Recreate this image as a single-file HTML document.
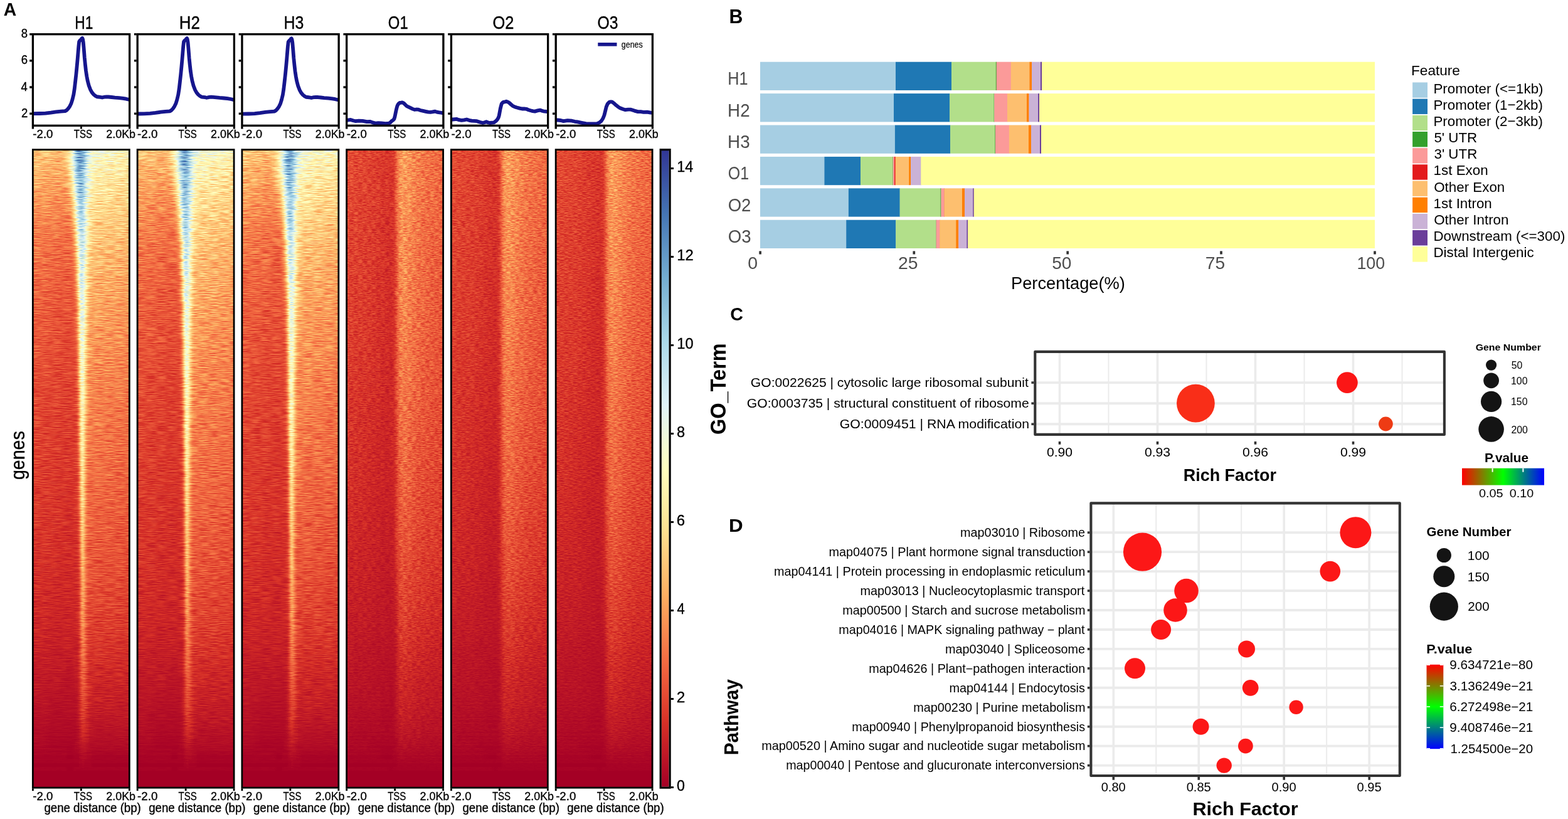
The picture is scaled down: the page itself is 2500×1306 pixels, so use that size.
<!DOCTYPE html>
<html lang="en"><head><meta charset="utf-8"><title>Figure</title>
<style>html,body{margin:0;padding:0;background:#fff}svg{display:block}text{font-family:"Liberation Sans",sans-serif;white-space:pre}</style>
</head><body>
<svg width="2500" height="1306" viewBox="0 0 2500 1306">
<defs>
<clipPath id="cp0"><rect x="52.4" y="54.6" width="154.2" height="145.7"/></clipPath>
<clipPath id="cp1"><rect x="219.16" y="54.6" width="154.2" height="145.7"/></clipPath>
<clipPath id="cp2"><rect x="385.92" y="54.6" width="154.2" height="145.7"/></clipPath>
<clipPath id="cp3"><rect x="552.68" y="54.6" width="154.2" height="145.7"/></clipPath>
<clipPath id="cp4"><rect x="719.44" y="54.6" width="154.2" height="145.7"/></clipPath>
<clipPath id="cp5"><rect x="886.2" y="54.6" width="154.2" height="145.7"/></clipPath>
<linearGradient id="gh0"><stop offset="0" stop-color="#3c3c3c"/><stop offset="0.1" stop-color="#3a3a3a"/><stop offset="0.2" stop-color="#383838"/><stop offset="0.26" stop-color="#373737"/><stop offset="0.3" stop-color="#383838"/><stop offset="0.33" stop-color="#3d3d3d"/><stop offset="0.36" stop-color="#464646"/><stop offset="0.385" stop-color="#525252"/><stop offset="0.405" stop-color="#5d5d5d"/><stop offset="0.425" stop-color="#6c6c6c"/><stop offset="0.44" stop-color="#777777"/><stop offset="0.455" stop-color="#838383"/><stop offset="0.47" stop-color="#8c8c8c"/><stop offset="0.482" stop-color="#919191"/><stop offset="0.49" stop-color="#939393"/><stop offset="0.498" stop-color="#939393"/><stop offset="0.506" stop-color="#929292"/><stop offset="0.512" stop-color="#919191"/><stop offset="0.518" stop-color="#8f8f8f"/><stop offset="0.526" stop-color="#8c8c8c"/><stop offset="0.535" stop-color="#888888"/><stop offset="0.55" stop-color="#7f7f7f"/><stop offset="0.57" stop-color="#747474"/><stop offset="0.59" stop-color="#6c6c6c"/><stop offset="0.62" stop-color="#646464"/><stop offset="0.66" stop-color="#5f5f5f"/><stop offset="0.72" stop-color="#5d5d5d"/><stop offset="0.8" stop-color="#5a5a5a"/><stop offset="0.9" stop-color="#585858"/><stop offset="1" stop-color="#555555"/></linearGradient>
<linearGradient id="gh1"><stop offset="0" stop-color="#3a3a3a"/><stop offset="0.1" stop-color="#393939"/><stop offset="0.2" stop-color="#363636"/><stop offset="0.26" stop-color="#353535"/><stop offset="0.3" stop-color="#373737"/><stop offset="0.33" stop-color="#3c3c3c"/><stop offset="0.36" stop-color="#464646"/><stop offset="0.385" stop-color="#525252"/><stop offset="0.405" stop-color="#5d5d5d"/><stop offset="0.425" stop-color="#6c6c6c"/><stop offset="0.44" stop-color="#787878"/><stop offset="0.455" stop-color="#838383"/><stop offset="0.47" stop-color="#8c8c8c"/><stop offset="0.482" stop-color="#909090"/><stop offset="0.49" stop-color="#919191"/><stop offset="0.498" stop-color="#919191"/><stop offset="0.506" stop-color="#909090"/><stop offset="0.512" stop-color="#8f8f8f"/><stop offset="0.518" stop-color="#8d8d8d"/><stop offset="0.526" stop-color="#898989"/><stop offset="0.535" stop-color="#848484"/><stop offset="0.55" stop-color="#7b7b7b"/><stop offset="0.57" stop-color="#6f6f6f"/><stop offset="0.59" stop-color="#676767"/><stop offset="0.62" stop-color="#5f5f5f"/><stop offset="0.66" stop-color="#5a5a5a"/><stop offset="0.72" stop-color="#585858"/><stop offset="0.8" stop-color="#565656"/><stop offset="0.9" stop-color="#545454"/><stop offset="1" stop-color="#515151"/></linearGradient>
<linearGradient id="gh2"><stop offset="0" stop-color="#393939"/><stop offset="0.1" stop-color="#383838"/><stop offset="0.2" stop-color="#353535"/><stop offset="0.26" stop-color="#343434"/><stop offset="0.3" stop-color="#363636"/><stop offset="0.33" stop-color="#3b3b3b"/><stop offset="0.36" stop-color="#454545"/><stop offset="0.385" stop-color="#525252"/><stop offset="0.405" stop-color="#5e5e5e"/><stop offset="0.425" stop-color="#6d6d6d"/><stop offset="0.44" stop-color="#787878"/><stop offset="0.455" stop-color="#838383"/><stop offset="0.47" stop-color="#8b8b8b"/><stop offset="0.482" stop-color="#8f8f8f"/><stop offset="0.49" stop-color="#909090"/><stop offset="0.498" stop-color="#909090"/><stop offset="0.506" stop-color="#8e8e8e"/><stop offset="0.512" stop-color="#8c8c8c"/><stop offset="0.518" stop-color="#8a8a8a"/><stop offset="0.526" stop-color="#858585"/><stop offset="0.535" stop-color="#808080"/><stop offset="0.55" stop-color="#767676"/><stop offset="0.57" stop-color="#6a6a6a"/><stop offset="0.59" stop-color="#626262"/><stop offset="0.62" stop-color="#5a5a5a"/><stop offset="0.66" stop-color="#565656"/><stop offset="0.72" stop-color="#545454"/><stop offset="0.8" stop-color="#525252"/><stop offset="0.9" stop-color="#4f4f4f"/><stop offset="1" stop-color="#4d4d4d"/></linearGradient>
<linearGradient id="gh3"><stop offset="0" stop-color="#373737"/><stop offset="0.1" stop-color="#363636"/><stop offset="0.2" stop-color="#333333"/><stop offset="0.26" stop-color="#323232"/><stop offset="0.3" stop-color="#343434"/><stop offset="0.33" stop-color="#383838"/><stop offset="0.36" stop-color="#424242"/><stop offset="0.385" stop-color="#4f4f4f"/><stop offset="0.405" stop-color="#5b5b5b"/><stop offset="0.425" stop-color="#6a6a6a"/><stop offset="0.44" stop-color="#767676"/><stop offset="0.455" stop-color="#818181"/><stop offset="0.47" stop-color="#8a8a8a"/><stop offset="0.482" stop-color="#8e8e8e"/><stop offset="0.49" stop-color="#8f8f8f"/><stop offset="0.498" stop-color="#8e8e8e"/><stop offset="0.506" stop-color="#8c8c8c"/><stop offset="0.512" stop-color="#8a8a8a"/><stop offset="0.518" stop-color="#888888"/><stop offset="0.526" stop-color="#848484"/><stop offset="0.535" stop-color="#7e7e7e"/><stop offset="0.55" stop-color="#747474"/><stop offset="0.57" stop-color="#686868"/><stop offset="0.59" stop-color="#5f5f5f"/><stop offset="0.62" stop-color="#575757"/><stop offset="0.66" stop-color="#535353"/><stop offset="0.72" stop-color="#515151"/><stop offset="0.8" stop-color="#4f4f4f"/><stop offset="0.9" stop-color="#4d4d4d"/><stop offset="1" stop-color="#4b4b4b"/></linearGradient>
<linearGradient id="gh4"><stop offset="0" stop-color="#353535"/><stop offset="0.1" stop-color="#343434"/><stop offset="0.2" stop-color="#313131"/><stop offset="0.26" stop-color="#303030"/><stop offset="0.3" stop-color="#313131"/><stop offset="0.33" stop-color="#353535"/><stop offset="0.36" stop-color="#3e3e3e"/><stop offset="0.385" stop-color="#4b4b4b"/><stop offset="0.405" stop-color="#575757"/><stop offset="0.425" stop-color="#676767"/><stop offset="0.44" stop-color="#747474"/><stop offset="0.455" stop-color="#7f7f7f"/><stop offset="0.47" stop-color="#888888"/><stop offset="0.482" stop-color="#8c8c8c"/><stop offset="0.49" stop-color="#8d8d8d"/><stop offset="0.498" stop-color="#8c8c8c"/><stop offset="0.506" stop-color="#8a8a8a"/><stop offset="0.512" stop-color="#888888"/><stop offset="0.518" stop-color="#868686"/><stop offset="0.526" stop-color="#818181"/><stop offset="0.535" stop-color="#7c7c7c"/><stop offset="0.55" stop-color="#717171"/><stop offset="0.57" stop-color="#656565"/><stop offset="0.59" stop-color="#5c5c5c"/><stop offset="0.62" stop-color="#545454"/><stop offset="0.66" stop-color="#505050"/><stop offset="0.72" stop-color="#4f4f4f"/><stop offset="0.8" stop-color="#4d4d4d"/><stop offset="0.9" stop-color="#4a4a4a"/><stop offset="1" stop-color="#484848"/></linearGradient>
<linearGradient id="gh5"><stop offset="0" stop-color="#313131"/><stop offset="0.1" stop-color="#303030"/><stop offset="0.2" stop-color="#2e2e2e"/><stop offset="0.26" stop-color="#2c2c2c"/><stop offset="0.3" stop-color="#2c2c2c"/><stop offset="0.33" stop-color="#2e2e2e"/><stop offset="0.36" stop-color="#353535"/><stop offset="0.385" stop-color="#404040"/><stop offset="0.405" stop-color="#4c4c4c"/><stop offset="0.425" stop-color="#5d5d5d"/><stop offset="0.44" stop-color="#6b6b6b"/><stop offset="0.455" stop-color="#787878"/><stop offset="0.47" stop-color="#828282"/><stop offset="0.482" stop-color="#878787"/><stop offset="0.49" stop-color="#888888"/><stop offset="0.498" stop-color="#888888"/><stop offset="0.506" stop-color="#868686"/><stop offset="0.512" stop-color="#848484"/><stop offset="0.518" stop-color="#818181"/><stop offset="0.526" stop-color="#7d7d7d"/><stop offset="0.535" stop-color="#777777"/><stop offset="0.55" stop-color="#6d6d6d"/><stop offset="0.57" stop-color="#606060"/><stop offset="0.59" stop-color="#575757"/><stop offset="0.62" stop-color="#4f4f4f"/><stop offset="0.66" stop-color="#4c4c4c"/><stop offset="0.72" stop-color="#4a4a4a"/><stop offset="0.8" stop-color="#484848"/><stop offset="0.9" stop-color="#464646"/><stop offset="1" stop-color="#444444"/></linearGradient>
<linearGradient id="gh6"><stop offset="0" stop-color="#2d2d2d"/><stop offset="0.1" stop-color="#2c2c2c"/><stop offset="0.2" stop-color="#2a2a2a"/><stop offset="0.26" stop-color="#292929"/><stop offset="0.3" stop-color="#282828"/><stop offset="0.33" stop-color="#292929"/><stop offset="0.36" stop-color="#2c2c2c"/><stop offset="0.385" stop-color="#353535"/><stop offset="0.405" stop-color="#414141"/><stop offset="0.425" stop-color="#515151"/><stop offset="0.44" stop-color="#606060"/><stop offset="0.455" stop-color="#6f6f6f"/><stop offset="0.47" stop-color="#7b7b7b"/><stop offset="0.482" stop-color="#818181"/><stop offset="0.49" stop-color="#838383"/><stop offset="0.498" stop-color="#838383"/><stop offset="0.506" stop-color="#828282"/><stop offset="0.512" stop-color="#808080"/><stop offset="0.518" stop-color="#7d7d7d"/><stop offset="0.526" stop-color="#797979"/><stop offset="0.535" stop-color="#737373"/><stop offset="0.55" stop-color="#686868"/><stop offset="0.57" stop-color="#5b5b5b"/><stop offset="0.59" stop-color="#515151"/><stop offset="0.62" stop-color="#4a4a4a"/><stop offset="0.66" stop-color="#474747"/><stop offset="0.72" stop-color="#464646"/><stop offset="0.8" stop-color="#444444"/><stop offset="0.9" stop-color="#424242"/><stop offset="1" stop-color="#404040"/></linearGradient>
<linearGradient id="gh7"><stop offset="0" stop-color="#2a2a2a"/><stop offset="0.1" stop-color="#292929"/><stop offset="0.2" stop-color="#272727"/><stop offset="0.26" stop-color="#262626"/><stop offset="0.3" stop-color="#252525"/><stop offset="0.33" stop-color="#252525"/><stop offset="0.36" stop-color="#272727"/><stop offset="0.385" stop-color="#2c2c2c"/><stop offset="0.405" stop-color="#363636"/><stop offset="0.425" stop-color="#454545"/><stop offset="0.44" stop-color="#555555"/><stop offset="0.455" stop-color="#656565"/><stop offset="0.47" stop-color="#747474"/><stop offset="0.482" stop-color="#7c7c7c"/><stop offset="0.49" stop-color="#7e7e7e"/><stop offset="0.498" stop-color="#7f7f7f"/><stop offset="0.506" stop-color="#7e7e7e"/><stop offset="0.512" stop-color="#7c7c7c"/><stop offset="0.518" stop-color="#7a7a7a"/><stop offset="0.526" stop-color="#757575"/><stop offset="0.535" stop-color="#6f6f6f"/><stop offset="0.55" stop-color="#646464"/><stop offset="0.57" stop-color="#565656"/><stop offset="0.59" stop-color="#4d4d4d"/><stop offset="0.62" stop-color="#464646"/><stop offset="0.66" stop-color="#434343"/><stop offset="0.72" stop-color="#424242"/><stop offset="0.8" stop-color="#404040"/><stop offset="0.9" stop-color="#3e3e3e"/><stop offset="1" stop-color="#3d3d3d"/></linearGradient>
<linearGradient id="gh8"><stop offset="0" stop-color="#262626"/><stop offset="0.1" stop-color="#262626"/><stop offset="0.2" stop-color="#242424"/><stop offset="0.26" stop-color="#232323"/><stop offset="0.3" stop-color="#222222"/><stop offset="0.33" stop-color="#222222"/><stop offset="0.36" stop-color="#222222"/><stop offset="0.385" stop-color="#252525"/><stop offset="0.405" stop-color="#2b2b2b"/><stop offset="0.425" stop-color="#393939"/><stop offset="0.44" stop-color="#484848"/><stop offset="0.455" stop-color="#5a5a5a"/><stop offset="0.47" stop-color="#6b6b6b"/><stop offset="0.482" stop-color="#757575"/><stop offset="0.49" stop-color="#797979"/><stop offset="0.498" stop-color="#7b7b7b"/><stop offset="0.506" stop-color="#7a7a7a"/><stop offset="0.512" stop-color="#797979"/><stop offset="0.518" stop-color="#767676"/><stop offset="0.526" stop-color="#727272"/><stop offset="0.535" stop-color="#6c6c6c"/><stop offset="0.55" stop-color="#606060"/><stop offset="0.57" stop-color="#525252"/><stop offset="0.59" stop-color="#484848"/><stop offset="0.62" stop-color="#424242"/><stop offset="0.66" stop-color="#3f3f3f"/><stop offset="0.72" stop-color="#3e3e3e"/><stop offset="0.8" stop-color="#3d3d3d"/><stop offset="0.9" stop-color="#3b3b3b"/><stop offset="1" stop-color="#393939"/></linearGradient>
<linearGradient id="gh9"><stop offset="0" stop-color="#242424"/><stop offset="0.1" stop-color="#232323"/><stop offset="0.2" stop-color="#222222"/><stop offset="0.26" stop-color="#212121"/><stop offset="0.3" stop-color="#202020"/><stop offset="0.33" stop-color="#202020"/><stop offset="0.36" stop-color="#202020"/><stop offset="0.385" stop-color="#212121"/><stop offset="0.405" stop-color="#252525"/><stop offset="0.425" stop-color="#303030"/><stop offset="0.44" stop-color="#3e3e3e"/><stop offset="0.455" stop-color="#505050"/><stop offset="0.47" stop-color="#636363"/><stop offset="0.482" stop-color="#6e6e6e"/><stop offset="0.49" stop-color="#747474"/><stop offset="0.498" stop-color="#767676"/><stop offset="0.506" stop-color="#767676"/><stop offset="0.512" stop-color="#757575"/><stop offset="0.518" stop-color="#737373"/><stop offset="0.526" stop-color="#6e6e6e"/><stop offset="0.535" stop-color="#686868"/><stop offset="0.55" stop-color="#5c5c5c"/><stop offset="0.57" stop-color="#4e4e4e"/><stop offset="0.59" stop-color="#444444"/><stop offset="0.62" stop-color="#3e3e3e"/><stop offset="0.66" stop-color="#3c3c3c"/><stop offset="0.72" stop-color="#3b3b3b"/><stop offset="0.8" stop-color="#3a3a3a"/><stop offset="0.9" stop-color="#383838"/><stop offset="1" stop-color="#363636"/></linearGradient>
<linearGradient id="gh10"><stop offset="0" stop-color="#222222"/><stop offset="0.1" stop-color="#212121"/><stop offset="0.2" stop-color="#202020"/><stop offset="0.26" stop-color="#1e1e1e"/><stop offset="0.3" stop-color="#1e1e1e"/><stop offset="0.33" stop-color="#1d1d1d"/><stop offset="0.36" stop-color="#1d1d1d"/><stop offset="0.385" stop-color="#1e1e1e"/><stop offset="0.405" stop-color="#212121"/><stop offset="0.425" stop-color="#282828"/><stop offset="0.44" stop-color="#343434"/><stop offset="0.455" stop-color="#454545"/><stop offset="0.47" stop-color="#595959"/><stop offset="0.482" stop-color="#676767"/><stop offset="0.49" stop-color="#6e6e6e"/><stop offset="0.498" stop-color="#717171"/><stop offset="0.506" stop-color="#727272"/><stop offset="0.512" stop-color="#717171"/><stop offset="0.518" stop-color="#6f6f6f"/><stop offset="0.526" stop-color="#6b6b6b"/><stop offset="0.535" stop-color="#656565"/><stop offset="0.55" stop-color="#595959"/><stop offset="0.57" stop-color="#4a4a4a"/><stop offset="0.59" stop-color="#404040"/><stop offset="0.62" stop-color="#3b3b3b"/><stop offset="0.66" stop-color="#393939"/><stop offset="0.72" stop-color="#383838"/><stop offset="0.8" stop-color="#373737"/><stop offset="0.9" stop-color="#353535"/><stop offset="1" stop-color="#333333"/></linearGradient>
<linearGradient id="gh11"><stop offset="0" stop-color="#202020"/><stop offset="0.1" stop-color="#202020"/><stop offset="0.2" stop-color="#1e1e1e"/><stop offset="0.26" stop-color="#1d1d1d"/><stop offset="0.3" stop-color="#1c1c1c"/><stop offset="0.33" stop-color="#1c1c1c"/><stop offset="0.36" stop-color="#1c1c1c"/><stop offset="0.385" stop-color="#1c1c1c"/><stop offset="0.405" stop-color="#1e1e1e"/><stop offset="0.425" stop-color="#242424"/><stop offset="0.44" stop-color="#2d2d2d"/><stop offset="0.455" stop-color="#3e3e3e"/><stop offset="0.47" stop-color="#525252"/><stop offset="0.482" stop-color="#616161"/><stop offset="0.49" stop-color="#696969"/><stop offset="0.498" stop-color="#6d6d6d"/><stop offset="0.506" stop-color="#6f6f6f"/><stop offset="0.512" stop-color="#6e6e6e"/><stop offset="0.518" stop-color="#6c6c6c"/><stop offset="0.526" stop-color="#686868"/><stop offset="0.535" stop-color="#616161"/><stop offset="0.55" stop-color="#555555"/><stop offset="0.57" stop-color="#464646"/><stop offset="0.59" stop-color="#3d3d3d"/><stop offset="0.62" stop-color="#383838"/><stop offset="0.66" stop-color="#363636"/><stop offset="0.72" stop-color="#353535"/><stop offset="0.8" stop-color="#343434"/><stop offset="0.9" stop-color="#333333"/><stop offset="1" stop-color="#313131"/></linearGradient>
<linearGradient id="gh12"><stop offset="0" stop-color="#1f1f1f"/><stop offset="0.1" stop-color="#1e1e1e"/><stop offset="0.2" stop-color="#1d1d1d"/><stop offset="0.26" stop-color="#1c1c1c"/><stop offset="0.3" stop-color="#1b1b1b"/><stop offset="0.33" stop-color="#1b1b1b"/><stop offset="0.36" stop-color="#1a1a1a"/><stop offset="0.385" stop-color="#1a1a1a"/><stop offset="0.405" stop-color="#1b1b1b"/><stop offset="0.425" stop-color="#1f1f1f"/><stop offset="0.44" stop-color="#272727"/><stop offset="0.455" stop-color="#363636"/><stop offset="0.47" stop-color="#4a4a4a"/><stop offset="0.482" stop-color="#5a5a5a"/><stop offset="0.49" stop-color="#636363"/><stop offset="0.498" stop-color="#696969"/><stop offset="0.506" stop-color="#6b6b6b"/><stop offset="0.512" stop-color="#6b6b6b"/><stop offset="0.518" stop-color="#696969"/><stop offset="0.526" stop-color="#656565"/><stop offset="0.535" stop-color="#5e5e5e"/><stop offset="0.55" stop-color="#525252"/><stop offset="0.57" stop-color="#434343"/><stop offset="0.59" stop-color="#3a3a3a"/><stop offset="0.62" stop-color="#353535"/><stop offset="0.66" stop-color="#343434"/><stop offset="0.72" stop-color="#333333"/><stop offset="0.8" stop-color="#323232"/><stop offset="0.9" stop-color="#303030"/><stop offset="1" stop-color="#2f2f2f"/></linearGradient>
<linearGradient id="gh13"><stop offset="0" stop-color="#1d1d1d"/><stop offset="0.1" stop-color="#1c1c1c"/><stop offset="0.2" stop-color="#1b1b1b"/><stop offset="0.26" stop-color="#1a1a1a"/><stop offset="0.3" stop-color="#191919"/><stop offset="0.33" stop-color="#191919"/><stop offset="0.36" stop-color="#191919"/><stop offset="0.385" stop-color="#191919"/><stop offset="0.405" stop-color="#191919"/><stop offset="0.425" stop-color="#1c1c1c"/><stop offset="0.44" stop-color="#222222"/><stop offset="0.455" stop-color="#2e2e2e"/><stop offset="0.47" stop-color="#424242"/><stop offset="0.482" stop-color="#535353"/><stop offset="0.49" stop-color="#5d5d5d"/><stop offset="0.498" stop-color="#646464"/><stop offset="0.506" stop-color="#676767"/><stop offset="0.512" stop-color="#676767"/><stop offset="0.518" stop-color="#656565"/><stop offset="0.526" stop-color="#616161"/><stop offset="0.535" stop-color="#5a5a5a"/><stop offset="0.55" stop-color="#4d4d4d"/><stop offset="0.57" stop-color="#3e3e3e"/><stop offset="0.59" stop-color="#363636"/><stop offset="0.62" stop-color="#323232"/><stop offset="0.66" stop-color="#313131"/><stop offset="0.72" stop-color="#303030"/><stop offset="0.8" stop-color="#2f2f2f"/><stop offset="0.9" stop-color="#2e2e2e"/><stop offset="1" stop-color="#2c2c2c"/></linearGradient>
<linearGradient id="gh14"><stop offset="0" stop-color="#1b1b1b"/><stop offset="0.1" stop-color="#1a1a1a"/><stop offset="0.2" stop-color="#191919"/><stop offset="0.26" stop-color="#181818"/><stop offset="0.3" stop-color="#181818"/><stop offset="0.33" stop-color="#171717"/><stop offset="0.36" stop-color="#171717"/><stop offset="0.385" stop-color="#171717"/><stop offset="0.405" stop-color="#171717"/><stop offset="0.425" stop-color="#191919"/><stop offset="0.44" stop-color="#1d1d1d"/><stop offset="0.455" stop-color="#272727"/><stop offset="0.47" stop-color="#393939"/><stop offset="0.482" stop-color="#4b4b4b"/><stop offset="0.49" stop-color="#575757"/><stop offset="0.498" stop-color="#5f5f5f"/><stop offset="0.506" stop-color="#636363"/><stop offset="0.512" stop-color="#636363"/><stop offset="0.518" stop-color="#616161"/><stop offset="0.526" stop-color="#5d5d5d"/><stop offset="0.535" stop-color="#565656"/><stop offset="0.55" stop-color="#484848"/><stop offset="0.57" stop-color="#3a3a3a"/><stop offset="0.59" stop-color="#323232"/><stop offset="0.62" stop-color="#2f2f2f"/><stop offset="0.66" stop-color="#2e2e2e"/><stop offset="0.72" stop-color="#2d2d2d"/><stop offset="0.8" stop-color="#2c2c2c"/><stop offset="0.9" stop-color="#2b2b2b"/><stop offset="1" stop-color="#2a2a2a"/></linearGradient>
<linearGradient id="gh15"><stop offset="0" stop-color="#181818"/><stop offset="0.1" stop-color="#181818"/><stop offset="0.2" stop-color="#171717"/><stop offset="0.26" stop-color="#161616"/><stop offset="0.3" stop-color="#151515"/><stop offset="0.33" stop-color="#151515"/><stop offset="0.36" stop-color="#151515"/><stop offset="0.385" stop-color="#151515"/><stop offset="0.405" stop-color="#151515"/><stop offset="0.425" stop-color="#161616"/><stop offset="0.44" stop-color="#181818"/><stop offset="0.455" stop-color="#202020"/><stop offset="0.47" stop-color="#303030"/><stop offset="0.482" stop-color="#424242"/><stop offset="0.49" stop-color="#4e4e4e"/><stop offset="0.498" stop-color="#575757"/><stop offset="0.506" stop-color="#5c5c5c"/><stop offset="0.512" stop-color="#5d5d5d"/><stop offset="0.518" stop-color="#5b5b5b"/><stop offset="0.526" stop-color="#575757"/><stop offset="0.535" stop-color="#4f4f4f"/><stop offset="0.55" stop-color="#414141"/><stop offset="0.57" stop-color="#333333"/><stop offset="0.59" stop-color="#2d2d2d"/><stop offset="0.62" stop-color="#2b2b2b"/><stop offset="0.66" stop-color="#2a2a2a"/><stop offset="0.72" stop-color="#292929"/><stop offset="0.8" stop-color="#282828"/><stop offset="0.9" stop-color="#272727"/><stop offset="1" stop-color="#262626"/></linearGradient>
<linearGradient id="gh16"><stop offset="0" stop-color="#161616"/><stop offset="0.1" stop-color="#151515"/><stop offset="0.2" stop-color="#141414"/><stop offset="0.26" stop-color="#141414"/><stop offset="0.3" stop-color="#131313"/><stop offset="0.33" stop-color="#131313"/><stop offset="0.36" stop-color="#131313"/><stop offset="0.385" stop-color="#131313"/><stop offset="0.405" stop-color="#131313"/><stop offset="0.425" stop-color="#131313"/><stop offset="0.44" stop-color="#151515"/><stop offset="0.455" stop-color="#1a1a1a"/><stop offset="0.47" stop-color="#282828"/><stop offset="0.482" stop-color="#393939"/><stop offset="0.49" stop-color="#454545"/><stop offset="0.498" stop-color="#505050"/><stop offset="0.506" stop-color="#565656"/><stop offset="0.512" stop-color="#575757"/><stop offset="0.518" stop-color="#555555"/><stop offset="0.526" stop-color="#515151"/><stop offset="0.535" stop-color="#484848"/><stop offset="0.55" stop-color="#3a3a3a"/><stop offset="0.57" stop-color="#2d2d2d"/><stop offset="0.59" stop-color="#282828"/><stop offset="0.62" stop-color="#272727"/><stop offset="0.66" stop-color="#262626"/><stop offset="0.72" stop-color="#262626"/><stop offset="0.8" stop-color="#252525"/><stop offset="0.9" stop-color="#242424"/><stop offset="1" stop-color="#222222"/></linearGradient>
<linearGradient id="gh17"><stop offset="0" stop-color="#141414"/><stop offset="0.1" stop-color="#131313"/><stop offset="0.2" stop-color="#121212"/><stop offset="0.26" stop-color="#121212"/><stop offset="0.3" stop-color="#111111"/><stop offset="0.33" stop-color="#111111"/><stop offset="0.36" stop-color="#111111"/><stop offset="0.385" stop-color="#111111"/><stop offset="0.405" stop-color="#111111"/><stop offset="0.425" stop-color="#111111"/><stop offset="0.44" stop-color="#121212"/><stop offset="0.455" stop-color="#151515"/><stop offset="0.47" stop-color="#202020"/><stop offset="0.482" stop-color="#2f2f2f"/><stop offset="0.49" stop-color="#3c3c3c"/><stop offset="0.498" stop-color="#474747"/><stop offset="0.506" stop-color="#4e4e4e"/><stop offset="0.512" stop-color="#4f4f4f"/><stop offset="0.518" stop-color="#4e4e4e"/><stop offset="0.526" stop-color="#494949"/><stop offset="0.535" stop-color="#414141"/><stop offset="0.55" stop-color="#333333"/><stop offset="0.57" stop-color="#282828"/><stop offset="0.59" stop-color="#242424"/><stop offset="0.62" stop-color="#232323"/><stop offset="0.66" stop-color="#232323"/><stop offset="0.72" stop-color="#222222"/><stop offset="0.8" stop-color="#212121"/><stop offset="0.9" stop-color="#202020"/><stop offset="1" stop-color="#1f1f1f"/></linearGradient>
<linearGradient id="gh18"><stop offset="0" stop-color="#121212"/><stop offset="0.1" stop-color="#111111"/><stop offset="0.2" stop-color="#101010"/><stop offset="0.26" stop-color="#101010"/><stop offset="0.3" stop-color="#0f0f0f"/><stop offset="0.33" stop-color="#0f0f0f"/><stop offset="0.36" stop-color="#0f0f0f"/><stop offset="0.385" stop-color="#0f0f0f"/><stop offset="0.405" stop-color="#0f0f0f"/><stop offset="0.425" stop-color="#0f0f0f"/><stop offset="0.44" stop-color="#101010"/><stop offset="0.455" stop-color="#121212"/><stop offset="0.47" stop-color="#191919"/><stop offset="0.482" stop-color="#262626"/><stop offset="0.49" stop-color="#323232"/><stop offset="0.498" stop-color="#3d3d3d"/><stop offset="0.506" stop-color="#454545"/><stop offset="0.512" stop-color="#474747"/><stop offset="0.518" stop-color="#464646"/><stop offset="0.526" stop-color="#414141"/><stop offset="0.535" stop-color="#393939"/><stop offset="0.55" stop-color="#2c2c2c"/><stop offset="0.57" stop-color="#222222"/><stop offset="0.59" stop-color="#202020"/><stop offset="0.62" stop-color="#1f1f1f"/><stop offset="0.66" stop-color="#1f1f1f"/><stop offset="0.72" stop-color="#1e1e1e"/><stop offset="0.8" stop-color="#1e1e1e"/><stop offset="0.9" stop-color="#1d1d1d"/><stop offset="1" stop-color="#1c1c1c"/></linearGradient>
<linearGradient id="gh19"><stop offset="0" stop-color="#101010"/><stop offset="0.1" stop-color="#0f0f0f"/><stop offset="0.2" stop-color="#0f0f0f"/><stop offset="0.26" stop-color="#0e0e0e"/><stop offset="0.3" stop-color="#0e0e0e"/><stop offset="0.33" stop-color="#0e0e0e"/><stop offset="0.36" stop-color="#0d0d0d"/><stop offset="0.385" stop-color="#0d0d0d"/><stop offset="0.405" stop-color="#0d0d0d"/><stop offset="0.425" stop-color="#0e0e0e"/><stop offset="0.44" stop-color="#0e0e0e"/><stop offset="0.455" stop-color="#0f0f0f"/><stop offset="0.47" stop-color="#141414"/><stop offset="0.482" stop-color="#1e1e1e"/><stop offset="0.49" stop-color="#282828"/><stop offset="0.498" stop-color="#333333"/><stop offset="0.506" stop-color="#3b3b3b"/><stop offset="0.512" stop-color="#3e3e3e"/><stop offset="0.518" stop-color="#3d3d3d"/><stop offset="0.526" stop-color="#393939"/><stop offset="0.535" stop-color="#323232"/><stop offset="0.55" stop-color="#262626"/><stop offset="0.57" stop-color="#1e1e1e"/><stop offset="0.59" stop-color="#1c1c1c"/><stop offset="0.62" stop-color="#1c1c1c"/><stop offset="0.66" stop-color="#1b1b1b"/><stop offset="0.72" stop-color="#1b1b1b"/><stop offset="0.8" stop-color="#1a1a1a"/><stop offset="0.9" stop-color="#191919"/><stop offset="1" stop-color="#191919"/></linearGradient>
<linearGradient id="gh20"><stop offset="0" stop-color="#0e0e0e"/><stop offset="0.1" stop-color="#0e0e0e"/><stop offset="0.2" stop-color="#0d0d0d"/><stop offset="0.26" stop-color="#0c0c0c"/><stop offset="0.3" stop-color="#0c0c0c"/><stop offset="0.33" stop-color="#0c0c0c"/><stop offset="0.36" stop-color="#0c0c0c"/><stop offset="0.385" stop-color="#0c0c0c"/><stop offset="0.405" stop-color="#0c0c0c"/><stop offset="0.425" stop-color="#0c0c0c"/><stop offset="0.44" stop-color="#0c0c0c"/><stop offset="0.455" stop-color="#0d0d0d"/><stop offset="0.47" stop-color="#101010"/><stop offset="0.482" stop-color="#181818"/><stop offset="0.49" stop-color="#202020"/><stop offset="0.498" stop-color="#292929"/><stop offset="0.506" stop-color="#323232"/><stop offset="0.512" stop-color="#353535"/><stop offset="0.518" stop-color="#353535"/><stop offset="0.526" stop-color="#323232"/><stop offset="0.535" stop-color="#2b2b2b"/><stop offset="0.55" stop-color="#212121"/><stop offset="0.57" stop-color="#1a1a1a"/><stop offset="0.59" stop-color="#181818"/><stop offset="0.62" stop-color="#181818"/><stop offset="0.66" stop-color="#181818"/><stop offset="0.72" stop-color="#171717"/><stop offset="0.8" stop-color="#171717"/><stop offset="0.9" stop-color="#161616"/><stop offset="1" stop-color="#151515"/></linearGradient>
<linearGradient id="gh21"><stop offset="0" stop-color="#0c0c0c"/><stop offset="0.1" stop-color="#0c0c0c"/><stop offset="0.2" stop-color="#0c0c0c"/><stop offset="0.26" stop-color="#0b0b0b"/><stop offset="0.3" stop-color="#0b0b0b"/><stop offset="0.33" stop-color="#0b0b0b"/><stop offset="0.36" stop-color="#0b0b0b"/><stop offset="0.385" stop-color="#0b0b0b"/><stop offset="0.405" stop-color="#0b0b0b"/><stop offset="0.425" stop-color="#0b0b0b"/><stop offset="0.44" stop-color="#0b0b0b"/><stop offset="0.455" stop-color="#0c0c0c"/><stop offset="0.47" stop-color="#0e0e0e"/><stop offset="0.482" stop-color="#141414"/><stop offset="0.49" stop-color="#1b1b1b"/><stop offset="0.498" stop-color="#232323"/><stop offset="0.506" stop-color="#2a2a2a"/><stop offset="0.512" stop-color="#2d2d2d"/><stop offset="0.518" stop-color="#2e2e2e"/><stop offset="0.526" stop-color="#2c2c2c"/><stop offset="0.535" stop-color="#272727"/><stop offset="0.55" stop-color="#1e1e1e"/><stop offset="0.57" stop-color="#171717"/><stop offset="0.59" stop-color="#151515"/><stop offset="0.62" stop-color="#151515"/><stop offset="0.66" stop-color="#151515"/><stop offset="0.72" stop-color="#141414"/><stop offset="0.8" stop-color="#141414"/><stop offset="0.9" stop-color="#131313"/><stop offset="1" stop-color="#121212"/></linearGradient>
<linearGradient id="gh22"><stop offset="0" stop-color="#0b0b0b"/><stop offset="0.1" stop-color="#0b0b0b"/><stop offset="0.2" stop-color="#0a0a0a"/><stop offset="0.26" stop-color="#0a0a0a"/><stop offset="0.3" stop-color="#0a0a0a"/><stop offset="0.33" stop-color="#0a0a0a"/><stop offset="0.36" stop-color="#0a0a0a"/><stop offset="0.385" stop-color="#0a0a0a"/><stop offset="0.405" stop-color="#0a0a0a"/><stop offset="0.425" stop-color="#0a0a0a"/><stop offset="0.44" stop-color="#0a0a0a"/><stop offset="0.455" stop-color="#0b0b0b"/><stop offset="0.47" stop-color="#0c0c0c"/><stop offset="0.482" stop-color="#111111"/><stop offset="0.49" stop-color="#171717"/><stop offset="0.498" stop-color="#1e1e1e"/><stop offset="0.506" stop-color="#242424"/><stop offset="0.512" stop-color="#262626"/><stop offset="0.518" stop-color="#272727"/><stop offset="0.526" stop-color="#262626"/><stop offset="0.535" stop-color="#222222"/><stop offset="0.55" stop-color="#1a1a1a"/><stop offset="0.57" stop-color="#141414"/><stop offset="0.59" stop-color="#121212"/><stop offset="0.62" stop-color="#121212"/><stop offset="0.66" stop-color="#111111"/><stop offset="0.72" stop-color="#111111"/><stop offset="0.8" stop-color="#111111"/><stop offset="0.9" stop-color="#101010"/><stop offset="1" stop-color="#101010"/></linearGradient>
<linearGradient id="gh23"><stop offset="0" stop-color="#0a0a0a"/><stop offset="0.1" stop-color="#0a0a0a"/><stop offset="0.2" stop-color="#090909"/><stop offset="0.26" stop-color="#090909"/><stop offset="0.3" stop-color="#090909"/><stop offset="0.33" stop-color="#090909"/><stop offset="0.36" stop-color="#090909"/><stop offset="0.385" stop-color="#090909"/><stop offset="0.405" stop-color="#090909"/><stop offset="0.425" stop-color="#090909"/><stop offset="0.44" stop-color="#090909"/><stop offset="0.455" stop-color="#090909"/><stop offset="0.47" stop-color="#0b0b0b"/><stop offset="0.482" stop-color="#101010"/><stop offset="0.49" stop-color="#151515"/><stop offset="0.498" stop-color="#1a1a1a"/><stop offset="0.506" stop-color="#1f1f1f"/><stop offset="0.512" stop-color="#212121"/><stop offset="0.518" stop-color="#222222"/><stop offset="0.526" stop-color="#212121"/><stop offset="0.535" stop-color="#1e1e1e"/><stop offset="0.55" stop-color="#181818"/><stop offset="0.57" stop-color="#121212"/><stop offset="0.59" stop-color="#101010"/><stop offset="0.62" stop-color="#0f0f0f"/><stop offset="0.66" stop-color="#0f0f0f"/><stop offset="0.72" stop-color="#0f0f0f"/><stop offset="0.8" stop-color="#0e0e0e"/><stop offset="0.9" stop-color="#0e0e0e"/><stop offset="1" stop-color="#0d0d0d"/></linearGradient>
<linearGradient id="gh24"><stop offset="0" stop-color="#080808"/><stop offset="0.1" stop-color="#080808"/><stop offset="0.2" stop-color="#080808"/><stop offset="0.26" stop-color="#080808"/><stop offset="0.3" stop-color="#080808"/><stop offset="0.33" stop-color="#080808"/><stop offset="0.36" stop-color="#070707"/><stop offset="0.385" stop-color="#070707"/><stop offset="0.405" stop-color="#070707"/><stop offset="0.425" stop-color="#080808"/><stop offset="0.44" stop-color="#080808"/><stop offset="0.455" stop-color="#080808"/><stop offset="0.47" stop-color="#0a0a0a"/><stop offset="0.482" stop-color="#0e0e0e"/><stop offset="0.49" stop-color="#121212"/><stop offset="0.498" stop-color="#171717"/><stop offset="0.506" stop-color="#1b1b1b"/><stop offset="0.512" stop-color="#1c1c1c"/><stop offset="0.518" stop-color="#1d1d1d"/><stop offset="0.526" stop-color="#1d1d1d"/><stop offset="0.535" stop-color="#1b1b1b"/><stop offset="0.55" stop-color="#161616"/><stop offset="0.57" stop-color="#101010"/><stop offset="0.59" stop-color="#0d0d0d"/><stop offset="0.62" stop-color="#0d0d0d"/><stop offset="0.66" stop-color="#0c0c0c"/><stop offset="0.72" stop-color="#0c0c0c"/><stop offset="0.8" stop-color="#0c0c0c"/><stop offset="0.9" stop-color="#0c0c0c"/><stop offset="1" stop-color="#0b0b0b"/></linearGradient>
<linearGradient id="gh25"><stop offset="0" stop-color="#070707"/><stop offset="0.1" stop-color="#070707"/><stop offset="0.2" stop-color="#070707"/><stop offset="0.26" stop-color="#070707"/><stop offset="0.3" stop-color="#060606"/><stop offset="0.33" stop-color="#060606"/><stop offset="0.36" stop-color="#060606"/><stop offset="0.385" stop-color="#060606"/><stop offset="0.405" stop-color="#060606"/><stop offset="0.425" stop-color="#060606"/><stop offset="0.44" stop-color="#070707"/><stop offset="0.455" stop-color="#070707"/><stop offset="0.47" stop-color="#090909"/><stop offset="0.482" stop-color="#0c0c0c"/><stop offset="0.49" stop-color="#0f0f0f"/><stop offset="0.498" stop-color="#131313"/><stop offset="0.506" stop-color="#161616"/><stop offset="0.512" stop-color="#181818"/><stop offset="0.518" stop-color="#181818"/><stop offset="0.526" stop-color="#181818"/><stop offset="0.535" stop-color="#171717"/><stop offset="0.55" stop-color="#131313"/><stop offset="0.57" stop-color="#0e0e0e"/><stop offset="0.59" stop-color="#0c0c0c"/><stop offset="0.62" stop-color="#0b0b0b"/><stop offset="0.66" stop-color="#0b0b0b"/><stop offset="0.72" stop-color="#0a0a0a"/><stop offset="0.8" stop-color="#0a0a0a"/><stop offset="0.9" stop-color="#0a0a0a"/><stop offset="1" stop-color="#0a0a0a"/></linearGradient>
<linearGradient id="gh26"><stop offset="0" stop-color="#060606"/><stop offset="0.1" stop-color="#060606"/><stop offset="0.2" stop-color="#050505"/><stop offset="0.26" stop-color="#050505"/><stop offset="0.3" stop-color="#050505"/><stop offset="0.33" stop-color="#050505"/><stop offset="0.36" stop-color="#050505"/><stop offset="0.385" stop-color="#050505"/><stop offset="0.405" stop-color="#050505"/><stop offset="0.425" stop-color="#050505"/><stop offset="0.44" stop-color="#050505"/><stop offset="0.455" stop-color="#060606"/><stop offset="0.47" stop-color="#080808"/><stop offset="0.482" stop-color="#0a0a0a"/><stop offset="0.49" stop-color="#0d0d0d"/><stop offset="0.498" stop-color="#0f0f0f"/><stop offset="0.506" stop-color="#121212"/><stop offset="0.512" stop-color="#131313"/><stop offset="0.518" stop-color="#141414"/><stop offset="0.526" stop-color="#131313"/><stop offset="0.535" stop-color="#131313"/><stop offset="0.55" stop-color="#101010"/><stop offset="0.57" stop-color="#0c0c0c"/><stop offset="0.59" stop-color="#0a0a0a"/><stop offset="0.62" stop-color="#090909"/><stop offset="0.66" stop-color="#090909"/><stop offset="0.72" stop-color="#090909"/><stop offset="0.8" stop-color="#090909"/><stop offset="0.9" stop-color="#080808"/><stop offset="1" stop-color="#080808"/></linearGradient>
<linearGradient id="gh27"><stop offset="0" stop-color="#050505"/><stop offset="0.1" stop-color="#050505"/><stop offset="0.2" stop-color="#040404"/><stop offset="0.26" stop-color="#040404"/><stop offset="0.3" stop-color="#040404"/><stop offset="0.33" stop-color="#040404"/><stop offset="0.36" stop-color="#040404"/><stop offset="0.385" stop-color="#040404"/><stop offset="0.405" stop-color="#040404"/><stop offset="0.425" stop-color="#040404"/><stop offset="0.44" stop-color="#040404"/><stop offset="0.455" stop-color="#050505"/><stop offset="0.47" stop-color="#060606"/><stop offset="0.482" stop-color="#090909"/><stop offset="0.49" stop-color="#0a0a0a"/><stop offset="0.498" stop-color="#0c0c0c"/><stop offset="0.506" stop-color="#0e0e0e"/><stop offset="0.512" stop-color="#0e0e0e"/><stop offset="0.518" stop-color="#0f0f0f"/><stop offset="0.526" stop-color="#0f0f0f"/><stop offset="0.535" stop-color="#0e0e0e"/><stop offset="0.55" stop-color="#0c0c0c"/><stop offset="0.57" stop-color="#0a0a0a"/><stop offset="0.59" stop-color="#080808"/><stop offset="0.62" stop-color="#070707"/><stop offset="0.66" stop-color="#070707"/><stop offset="0.72" stop-color="#070707"/><stop offset="0.8" stop-color="#070707"/><stop offset="0.9" stop-color="#070707"/><stop offset="1" stop-color="#070707"/></linearGradient>
<linearGradient id="gh28"><stop offset="0" stop-color="#040404"/><stop offset="0.1" stop-color="#040404"/><stop offset="0.2" stop-color="#030303"/><stop offset="0.26" stop-color="#030303"/><stop offset="0.3" stop-color="#030303"/><stop offset="0.33" stop-color="#030303"/><stop offset="0.36" stop-color="#030303"/><stop offset="0.385" stop-color="#030303"/><stop offset="0.405" stop-color="#030303"/><stop offset="0.425" stop-color="#030303"/><stop offset="0.44" stop-color="#030303"/><stop offset="0.455" stop-color="#040404"/><stop offset="0.47" stop-color="#050505"/><stop offset="0.482" stop-color="#070707"/><stop offset="0.49" stop-color="#080808"/><stop offset="0.498" stop-color="#090909"/><stop offset="0.506" stop-color="#0a0a0a"/><stop offset="0.512" stop-color="#0b0b0b"/><stop offset="0.518" stop-color="#0b0b0b"/><stop offset="0.526" stop-color="#0b0b0b"/><stop offset="0.535" stop-color="#0a0a0a"/><stop offset="0.55" stop-color="#090909"/><stop offset="0.57" stop-color="#080808"/><stop offset="0.59" stop-color="#060606"/><stop offset="0.62" stop-color="#060606"/><stop offset="0.66" stop-color="#050505"/><stop offset="0.72" stop-color="#050505"/><stop offset="0.8" stop-color="#050505"/><stop offset="0.9" stop-color="#050505"/><stop offset="1" stop-color="#050505"/></linearGradient>
<linearGradient id="gh29"><stop offset="0" stop-color="#030303"/><stop offset="0.1" stop-color="#030303"/><stop offset="0.2" stop-color="#020202"/><stop offset="0.26" stop-color="#020202"/><stop offset="0.3" stop-color="#020202"/><stop offset="0.33" stop-color="#020202"/><stop offset="0.36" stop-color="#020202"/><stop offset="0.385" stop-color="#020202"/><stop offset="0.405" stop-color="#020202"/><stop offset="0.425" stop-color="#020202"/><stop offset="0.44" stop-color="#030303"/><stop offset="0.455" stop-color="#030303"/><stop offset="0.47" stop-color="#040404"/><stop offset="0.482" stop-color="#050505"/><stop offset="0.49" stop-color="#060606"/><stop offset="0.498" stop-color="#060606"/><stop offset="0.506" stop-color="#070707"/><stop offset="0.512" stop-color="#070707"/><stop offset="0.518" stop-color="#070707"/><stop offset="0.526" stop-color="#070707"/><stop offset="0.535" stop-color="#070707"/><stop offset="0.55" stop-color="#060606"/><stop offset="0.57" stop-color="#050505"/><stop offset="0.59" stop-color="#040404"/><stop offset="0.62" stop-color="#040404"/><stop offset="0.66" stop-color="#040404"/><stop offset="0.72" stop-color="#040404"/><stop offset="0.8" stop-color="#040404"/><stop offset="0.9" stop-color="#040404"/><stop offset="1" stop-color="#040404"/></linearGradient>
<linearGradient id="gh30"><stop offset="0" stop-color="#020202"/><stop offset="0.1" stop-color="#020202"/><stop offset="0.2" stop-color="#020202"/><stop offset="0.26" stop-color="#020202"/><stop offset="0.3" stop-color="#020202"/><stop offset="0.33" stop-color="#020202"/><stop offset="0.36" stop-color="#010101"/><stop offset="0.385" stop-color="#010101"/><stop offset="0.405" stop-color="#010101"/><stop offset="0.425" stop-color="#020202"/><stop offset="0.44" stop-color="#020202"/><stop offset="0.455" stop-color="#020202"/><stop offset="0.47" stop-color="#020202"/><stop offset="0.482" stop-color="#030303"/><stop offset="0.49" stop-color="#030303"/><stop offset="0.498" stop-color="#040404"/><stop offset="0.506" stop-color="#040404"/><stop offset="0.512" stop-color="#040404"/><stop offset="0.518" stop-color="#040404"/><stop offset="0.526" stop-color="#040404"/><stop offset="0.535" stop-color="#040404"/><stop offset="0.55" stop-color="#040404"/><stop offset="0.57" stop-color="#030303"/><stop offset="0.59" stop-color="#030303"/><stop offset="0.62" stop-color="#020202"/><stop offset="0.66" stop-color="#020202"/><stop offset="0.72" stop-color="#020202"/><stop offset="0.8" stop-color="#020202"/><stop offset="0.9" stop-color="#020202"/><stop offset="1" stop-color="#020202"/></linearGradient>
<linearGradient id="gh31"><stop offset="0" stop-color="#010101"/><stop offset="0.1" stop-color="#010101"/><stop offset="0.2" stop-color="#010101"/><stop offset="0.26" stop-color="#010101"/><stop offset="0.3" stop-color="#010101"/><stop offset="0.33" stop-color="#010101"/><stop offset="0.36" stop-color="#010101"/><stop offset="0.385" stop-color="#010101"/><stop offset="0.405" stop-color="#010101"/><stop offset="0.425" stop-color="#010101"/><stop offset="0.44" stop-color="#010101"/><stop offset="0.455" stop-color="#010101"/><stop offset="0.47" stop-color="#010101"/><stop offset="0.482" stop-color="#020202"/><stop offset="0.49" stop-color="#020202"/><stop offset="0.498" stop-color="#020202"/><stop offset="0.506" stop-color="#020202"/><stop offset="0.512" stop-color="#030303"/><stop offset="0.518" stop-color="#030303"/><stop offset="0.526" stop-color="#030303"/><stop offset="0.535" stop-color="#020202"/><stop offset="0.55" stop-color="#020202"/><stop offset="0.57" stop-color="#020202"/><stop offset="0.59" stop-color="#020202"/><stop offset="0.62" stop-color="#010101"/><stop offset="0.66" stop-color="#010101"/><stop offset="0.72" stop-color="#010101"/><stop offset="0.8" stop-color="#010101"/><stop offset="0.9" stop-color="#010101"/><stop offset="1" stop-color="#010101"/></linearGradient>
<linearGradient id="gh32"><stop offset="0" stop-color="#010101"/><stop offset="0.1" stop-color="#010101"/><stop offset="0.2" stop-color="#010101"/><stop offset="0.26" stop-color="#010101"/><stop offset="0.3" stop-color="#010101"/><stop offset="0.33" stop-color="#010101"/><stop offset="0.36" stop-color="#000000"/><stop offset="0.385" stop-color="#000000"/><stop offset="0.405" stop-color="#000000"/><stop offset="0.425" stop-color="#010101"/><stop offset="0.44" stop-color="#010101"/><stop offset="0.455" stop-color="#010101"/><stop offset="0.47" stop-color="#010101"/><stop offset="0.482" stop-color="#010101"/><stop offset="0.49" stop-color="#010101"/><stop offset="0.498" stop-color="#010101"/><stop offset="0.506" stop-color="#010101"/><stop offset="0.512" stop-color="#010101"/><stop offset="0.518" stop-color="#010101"/><stop offset="0.526" stop-color="#010101"/><stop offset="0.535" stop-color="#010101"/><stop offset="0.55" stop-color="#010101"/><stop offset="0.57" stop-color="#010101"/><stop offset="0.59" stop-color="#010101"/><stop offset="0.62" stop-color="#010101"/><stop offset="0.66" stop-color="#010101"/><stop offset="0.72" stop-color="#010101"/><stop offset="0.8" stop-color="#010101"/><stop offset="0.9" stop-color="#010101"/><stop offset="1" stop-color="#010101"/></linearGradient>
<linearGradient id="gh33"><stop offset="0" stop-color="#000000"/><stop offset="0.1" stop-color="#000000"/><stop offset="0.2" stop-color="#000000"/><stop offset="0.26" stop-color="#000000"/><stop offset="0.3" stop-color="#000000"/><stop offset="0.33" stop-color="#000000"/><stop offset="0.36" stop-color="#000000"/><stop offset="0.385" stop-color="#000000"/><stop offset="0.405" stop-color="#000000"/><stop offset="0.425" stop-color="#000000"/><stop offset="0.44" stop-color="#000000"/><stop offset="0.455" stop-color="#000000"/><stop offset="0.47" stop-color="#000000"/><stop offset="0.482" stop-color="#000000"/><stop offset="0.49" stop-color="#000000"/><stop offset="0.498" stop-color="#000000"/><stop offset="0.506" stop-color="#000000"/><stop offset="0.512" stop-color="#000000"/><stop offset="0.518" stop-color="#000000"/><stop offset="0.526" stop-color="#000000"/><stop offset="0.535" stop-color="#000000"/><stop offset="0.55" stop-color="#000000"/><stop offset="0.57" stop-color="#000000"/><stop offset="0.59" stop-color="#000000"/><stop offset="0.62" stop-color="#000000"/><stop offset="0.66" stop-color="#000000"/><stop offset="0.72" stop-color="#000000"/><stop offset="0.8" stop-color="#000000"/><stop offset="0.9" stop-color="#000000"/><stop offset="1" stop-color="#000000"/></linearGradient>
<linearGradient id="go0"><stop offset="0" stop-color="#161616"/><stop offset="0.1" stop-color="#141414"/><stop offset="0.2" stop-color="#141414"/><stop offset="0.3" stop-color="#121212"/><stop offset="0.4" stop-color="#101010"/><stop offset="0.46" stop-color="#0f0f0f"/><stop offset="0.49" stop-color="#111111"/><stop offset="0.51" stop-color="#181818"/><stop offset="0.53" stop-color="#232323"/><stop offset="0.55" stop-color="#2a2a2a"/><stop offset="0.58" stop-color="#2e2e2e"/><stop offset="0.62" stop-color="#2c2c2c"/><stop offset="0.66" stop-color="#292929"/><stop offset="0.7" stop-color="#272727"/><stop offset="0.75" stop-color="#242424"/><stop offset="0.8" stop-color="#222222"/><stop offset="0.9" stop-color="#1f1f1f"/><stop offset="1" stop-color="#1d1d1d"/></linearGradient>
<linearGradient id="go1"><stop offset="0" stop-color="#151515"/><stop offset="0.1" stop-color="#141414"/><stop offset="0.2" stop-color="#131313"/><stop offset="0.3" stop-color="#121212"/><stop offset="0.4" stop-color="#101010"/><stop offset="0.46" stop-color="#0f0f0f"/><stop offset="0.49" stop-color="#111111"/><stop offset="0.51" stop-color="#181818"/><stop offset="0.53" stop-color="#232323"/><stop offset="0.55" stop-color="#2a2a2a"/><stop offset="0.58" stop-color="#2d2d2d"/><stop offset="0.62" stop-color="#2c2c2c"/><stop offset="0.66" stop-color="#292929"/><stop offset="0.7" stop-color="#272727"/><stop offset="0.75" stop-color="#242424"/><stop offset="0.8" stop-color="#222222"/><stop offset="0.9" stop-color="#1f1f1f"/><stop offset="1" stop-color="#1d1d1d"/></linearGradient>
<linearGradient id="go2"><stop offset="0" stop-color="#151515"/><stop offset="0.1" stop-color="#141414"/><stop offset="0.2" stop-color="#131313"/><stop offset="0.3" stop-color="#121212"/><stop offset="0.4" stop-color="#0f0f0f"/><stop offset="0.46" stop-color="#0f0f0f"/><stop offset="0.49" stop-color="#111111"/><stop offset="0.51" stop-color="#181818"/><stop offset="0.53" stop-color="#222222"/><stop offset="0.55" stop-color="#2a2a2a"/><stop offset="0.58" stop-color="#2d2d2d"/><stop offset="0.62" stop-color="#2c2c2c"/><stop offset="0.66" stop-color="#292929"/><stop offset="0.7" stop-color="#262626"/><stop offset="0.75" stop-color="#242424"/><stop offset="0.8" stop-color="#222222"/><stop offset="0.9" stop-color="#1f1f1f"/><stop offset="1" stop-color="#1d1d1d"/></linearGradient>
<linearGradient id="go3"><stop offset="0" stop-color="#151515"/><stop offset="0.1" stop-color="#141414"/><stop offset="0.2" stop-color="#131313"/><stop offset="0.3" stop-color="#121212"/><stop offset="0.4" stop-color="#0f0f0f"/><stop offset="0.46" stop-color="#0f0f0f"/><stop offset="0.49" stop-color="#111111"/><stop offset="0.51" stop-color="#181818"/><stop offset="0.53" stop-color="#222222"/><stop offset="0.55" stop-color="#292929"/><stop offset="0.58" stop-color="#2d2d2d"/><stop offset="0.62" stop-color="#2c2c2c"/><stop offset="0.66" stop-color="#292929"/><stop offset="0.7" stop-color="#262626"/><stop offset="0.75" stop-color="#242424"/><stop offset="0.8" stop-color="#212121"/><stop offset="0.9" stop-color="#1f1f1f"/><stop offset="1" stop-color="#1d1d1d"/></linearGradient>
<linearGradient id="go4"><stop offset="0" stop-color="#151515"/><stop offset="0.1" stop-color="#141414"/><stop offset="0.2" stop-color="#131313"/><stop offset="0.3" stop-color="#111111"/><stop offset="0.4" stop-color="#0f0f0f"/><stop offset="0.46" stop-color="#0e0e0e"/><stop offset="0.49" stop-color="#101010"/><stop offset="0.51" stop-color="#181818"/><stop offset="0.53" stop-color="#222222"/><stop offset="0.55" stop-color="#292929"/><stop offset="0.58" stop-color="#2d2d2d"/><stop offset="0.62" stop-color="#2b2b2b"/><stop offset="0.66" stop-color="#282828"/><stop offset="0.7" stop-color="#262626"/><stop offset="0.75" stop-color="#232323"/><stop offset="0.8" stop-color="#212121"/><stop offset="0.9" stop-color="#1e1e1e"/><stop offset="1" stop-color="#1d1d1d"/></linearGradient>
<linearGradient id="go5"><stop offset="0" stop-color="#151515"/><stop offset="0.1" stop-color="#141414"/><stop offset="0.2" stop-color="#131313"/><stop offset="0.3" stop-color="#111111"/><stop offset="0.4" stop-color="#0f0f0f"/><stop offset="0.46" stop-color="#0e0e0e"/><stop offset="0.49" stop-color="#101010"/><stop offset="0.51" stop-color="#171717"/><stop offset="0.53" stop-color="#212121"/><stop offset="0.55" stop-color="#282828"/><stop offset="0.58" stop-color="#2c2c2c"/><stop offset="0.62" stop-color="#2b2b2b"/><stop offset="0.66" stop-color="#282828"/><stop offset="0.7" stop-color="#252525"/><stop offset="0.75" stop-color="#232323"/><stop offset="0.8" stop-color="#212121"/><stop offset="0.9" stop-color="#1e1e1e"/><stop offset="1" stop-color="#1c1c1c"/></linearGradient>
<linearGradient id="go6"><stop offset="0" stop-color="#141414"/><stop offset="0.1" stop-color="#131313"/><stop offset="0.2" stop-color="#131313"/><stop offset="0.3" stop-color="#111111"/><stop offset="0.4" stop-color="#0f0f0f"/><stop offset="0.46" stop-color="#0e0e0e"/><stop offset="0.49" stop-color="#101010"/><stop offset="0.51" stop-color="#171717"/><stop offset="0.53" stop-color="#212121"/><stop offset="0.55" stop-color="#282828"/><stop offset="0.58" stop-color="#2b2b2b"/><stop offset="0.62" stop-color="#2a2a2a"/><stop offset="0.66" stop-color="#272727"/><stop offset="0.7" stop-color="#252525"/><stop offset="0.75" stop-color="#222222"/><stop offset="0.8" stop-color="#202020"/><stop offset="0.9" stop-color="#1e1e1e"/><stop offset="1" stop-color="#1c1c1c"/></linearGradient>
<linearGradient id="go7"><stop offset="0" stop-color="#141414"/><stop offset="0.1" stop-color="#131313"/><stop offset="0.2" stop-color="#121212"/><stop offset="0.3" stop-color="#111111"/><stop offset="0.4" stop-color="#0f0f0f"/><stop offset="0.46" stop-color="#0e0e0e"/><stop offset="0.49" stop-color="#101010"/><stop offset="0.51" stop-color="#171717"/><stop offset="0.53" stop-color="#202020"/><stop offset="0.55" stop-color="#272727"/><stop offset="0.58" stop-color="#2b2b2b"/><stop offset="0.62" stop-color="#292929"/><stop offset="0.66" stop-color="#272727"/><stop offset="0.7" stop-color="#242424"/><stop offset="0.75" stop-color="#222222"/><stop offset="0.8" stop-color="#202020"/><stop offset="0.9" stop-color="#1d1d1d"/><stop offset="1" stop-color="#1b1b1b"/></linearGradient>
<linearGradient id="go8"><stop offset="0" stop-color="#141414"/><stop offset="0.1" stop-color="#131313"/><stop offset="0.2" stop-color="#121212"/><stop offset="0.3" stop-color="#101010"/><stop offset="0.4" stop-color="#0e0e0e"/><stop offset="0.46" stop-color="#0e0e0e"/><stop offset="0.49" stop-color="#0f0f0f"/><stop offset="0.51" stop-color="#161616"/><stop offset="0.53" stop-color="#202020"/><stop offset="0.55" stop-color="#272727"/><stop offset="0.58" stop-color="#2a2a2a"/><stop offset="0.62" stop-color="#292929"/><stop offset="0.66" stop-color="#262626"/><stop offset="0.7" stop-color="#242424"/><stop offset="0.75" stop-color="#212121"/><stop offset="0.8" stop-color="#1f1f1f"/><stop offset="0.9" stop-color="#1d1d1d"/><stop offset="1" stop-color="#1b1b1b"/></linearGradient>
<linearGradient id="go9"><stop offset="0" stop-color="#141414"/><stop offset="0.1" stop-color="#121212"/><stop offset="0.2" stop-color="#121212"/><stop offset="0.3" stop-color="#101010"/><stop offset="0.4" stop-color="#0e0e0e"/><stop offset="0.46" stop-color="#0d0d0d"/><stop offset="0.49" stop-color="#0f0f0f"/><stop offset="0.51" stop-color="#161616"/><stop offset="0.53" stop-color="#202020"/><stop offset="0.55" stop-color="#262626"/><stop offset="0.58" stop-color="#292929"/><stop offset="0.62" stop-color="#282828"/><stop offset="0.66" stop-color="#262626"/><stop offset="0.7" stop-color="#232323"/><stop offset="0.75" stop-color="#212121"/><stop offset="0.8" stop-color="#1f1f1f"/><stop offset="0.9" stop-color="#1c1c1c"/><stop offset="1" stop-color="#1b1b1b"/></linearGradient>
<linearGradient id="go10"><stop offset="0" stop-color="#131313"/><stop offset="0.1" stop-color="#121212"/><stop offset="0.2" stop-color="#111111"/><stop offset="0.3" stop-color="#101010"/><stop offset="0.4" stop-color="#0e0e0e"/><stop offset="0.46" stop-color="#0d0d0d"/><stop offset="0.49" stop-color="#0f0f0f"/><stop offset="0.51" stop-color="#161616"/><stop offset="0.53" stop-color="#1f1f1f"/><stop offset="0.55" stop-color="#262626"/><stop offset="0.58" stop-color="#292929"/><stop offset="0.62" stop-color="#282828"/><stop offset="0.66" stop-color="#252525"/><stop offset="0.7" stop-color="#232323"/><stop offset="0.75" stop-color="#202020"/><stop offset="0.8" stop-color="#1e1e1e"/><stop offset="0.9" stop-color="#1c1c1c"/><stop offset="1" stop-color="#1a1a1a"/></linearGradient>
<linearGradient id="go11"><stop offset="0" stop-color="#131313"/><stop offset="0.1" stop-color="#121212"/><stop offset="0.2" stop-color="#111111"/><stop offset="0.3" stop-color="#101010"/><stop offset="0.4" stop-color="#0e0e0e"/><stop offset="0.46" stop-color="#0d0d0d"/><stop offset="0.49" stop-color="#0f0f0f"/><stop offset="0.51" stop-color="#151515"/><stop offset="0.53" stop-color="#1f1f1f"/><stop offset="0.55" stop-color="#252525"/><stop offset="0.58" stop-color="#282828"/><stop offset="0.62" stop-color="#272727"/><stop offset="0.66" stop-color="#252525"/><stop offset="0.7" stop-color="#222222"/><stop offset="0.75" stop-color="#202020"/><stop offset="0.8" stop-color="#1e1e1e"/><stop offset="0.9" stop-color="#1b1b1b"/><stop offset="1" stop-color="#1a1a1a"/></linearGradient>
<linearGradient id="go12"><stop offset="0" stop-color="#131313"/><stop offset="0.1" stop-color="#121212"/><stop offset="0.2" stop-color="#111111"/><stop offset="0.3" stop-color="#0f0f0f"/><stop offset="0.4" stop-color="#0d0d0d"/><stop offset="0.46" stop-color="#0d0d0d"/><stop offset="0.49" stop-color="#0f0f0f"/><stop offset="0.51" stop-color="#151515"/><stop offset="0.53" stop-color="#1e1e1e"/><stop offset="0.55" stop-color="#252525"/><stop offset="0.58" stop-color="#282828"/><stop offset="0.62" stop-color="#272727"/><stop offset="0.66" stop-color="#242424"/><stop offset="0.7" stop-color="#222222"/><stop offset="0.75" stop-color="#1f1f1f"/><stop offset="0.8" stop-color="#1d1d1d"/><stop offset="0.9" stop-color="#1b1b1b"/><stop offset="1" stop-color="#191919"/></linearGradient>
<linearGradient id="go13"><stop offset="0" stop-color="#121212"/><stop offset="0.1" stop-color="#111111"/><stop offset="0.2" stop-color="#111111"/><stop offset="0.3" stop-color="#0f0f0f"/><stop offset="0.4" stop-color="#0d0d0d"/><stop offset="0.46" stop-color="#0c0c0c"/><stop offset="0.49" stop-color="#0e0e0e"/><stop offset="0.51" stop-color="#151515"/><stop offset="0.53" stop-color="#1e1e1e"/><stop offset="0.55" stop-color="#242424"/><stop offset="0.58" stop-color="#272727"/><stop offset="0.62" stop-color="#262626"/><stop offset="0.66" stop-color="#232323"/><stop offset="0.7" stop-color="#212121"/><stop offset="0.75" stop-color="#1f1f1f"/><stop offset="0.8" stop-color="#1d1d1d"/><stop offset="0.9" stop-color="#1a1a1a"/><stop offset="1" stop-color="#191919"/></linearGradient>
<linearGradient id="go14"><stop offset="0" stop-color="#121212"/><stop offset="0.1" stop-color="#111111"/><stop offset="0.2" stop-color="#101010"/><stop offset="0.3" stop-color="#0f0f0f"/><stop offset="0.4" stop-color="#0d0d0d"/><stop offset="0.46" stop-color="#0c0c0c"/><stop offset="0.49" stop-color="#0e0e0e"/><stop offset="0.51" stop-color="#141414"/><stop offset="0.53" stop-color="#1d1d1d"/><stop offset="0.55" stop-color="#232323"/><stop offset="0.58" stop-color="#262626"/><stop offset="0.62" stop-color="#252525"/><stop offset="0.66" stop-color="#232323"/><stop offset="0.7" stop-color="#202020"/><stop offset="0.75" stop-color="#1e1e1e"/><stop offset="0.8" stop-color="#1c1c1c"/><stop offset="0.9" stop-color="#1a1a1a"/><stop offset="1" stop-color="#181818"/></linearGradient>
<linearGradient id="go15"><stop offset="0" stop-color="#111111"/><stop offset="0.1" stop-color="#101010"/><stop offset="0.2" stop-color="#101010"/><stop offset="0.3" stop-color="#0e0e0e"/><stop offset="0.4" stop-color="#0c0c0c"/><stop offset="0.46" stop-color="#0c0c0c"/><stop offset="0.49" stop-color="#0d0d0d"/><stop offset="0.51" stop-color="#131313"/><stop offset="0.53" stop-color="#1c1c1c"/><stop offset="0.55" stop-color="#222222"/><stop offset="0.58" stop-color="#252525"/><stop offset="0.62" stop-color="#242424"/><stop offset="0.66" stop-color="#212121"/><stop offset="0.7" stop-color="#1f1f1f"/><stop offset="0.75" stop-color="#1d1d1d"/><stop offset="0.8" stop-color="#1b1b1b"/><stop offset="0.9" stop-color="#191919"/><stop offset="1" stop-color="#171717"/></linearGradient>
<linearGradient id="go16"><stop offset="0" stop-color="#101010"/><stop offset="0.1" stop-color="#0f0f0f"/><stop offset="0.2" stop-color="#0f0f0f"/><stop offset="0.3" stop-color="#0d0d0d"/><stop offset="0.4" stop-color="#0c0c0c"/><stop offset="0.46" stop-color="#0b0b0b"/><stop offset="0.49" stop-color="#0d0d0d"/><stop offset="0.51" stop-color="#121212"/><stop offset="0.53" stop-color="#1a1a1a"/><stop offset="0.55" stop-color="#202020"/><stop offset="0.58" stop-color="#232323"/><stop offset="0.62" stop-color="#222222"/><stop offset="0.66" stop-color="#202020"/><stop offset="0.7" stop-color="#1e1e1e"/><stop offset="0.75" stop-color="#1c1c1c"/><stop offset="0.8" stop-color="#1a1a1a"/><stop offset="0.9" stop-color="#181818"/><stop offset="1" stop-color="#161616"/></linearGradient>
<linearGradient id="go17"><stop offset="0" stop-color="#0f0f0f"/><stop offset="0.1" stop-color="#0e0e0e"/><stop offset="0.2" stop-color="#0d0d0d"/><stop offset="0.3" stop-color="#0c0c0c"/><stop offset="0.4" stop-color="#0b0b0b"/><stop offset="0.46" stop-color="#0b0b0b"/><stop offset="0.49" stop-color="#0c0c0c"/><stop offset="0.51" stop-color="#111111"/><stop offset="0.53" stop-color="#181818"/><stop offset="0.55" stop-color="#1e1e1e"/><stop offset="0.58" stop-color="#202020"/><stop offset="0.62" stop-color="#1f1f1f"/><stop offset="0.66" stop-color="#1d1d1d"/><stop offset="0.7" stop-color="#1b1b1b"/><stop offset="0.75" stop-color="#191919"/><stop offset="0.8" stop-color="#181818"/><stop offset="0.9" stop-color="#161616"/><stop offset="1" stop-color="#151515"/></linearGradient>
<linearGradient id="go18"><stop offset="0" stop-color="#0e0e0e"/><stop offset="0.1" stop-color="#0d0d0d"/><stop offset="0.2" stop-color="#0c0c0c"/><stop offset="0.3" stop-color="#0b0b0b"/><stop offset="0.4" stop-color="#0a0a0a"/><stop offset="0.46" stop-color="#0a0a0a"/><stop offset="0.49" stop-color="#0b0b0b"/><stop offset="0.51" stop-color="#0f0f0f"/><stop offset="0.53" stop-color="#161616"/><stop offset="0.55" stop-color="#1b1b1b"/><stop offset="0.58" stop-color="#1e1e1e"/><stop offset="0.62" stop-color="#1d1d1d"/><stop offset="0.66" stop-color="#1b1b1b"/><stop offset="0.7" stop-color="#191919"/><stop offset="0.75" stop-color="#171717"/><stop offset="0.8" stop-color="#161616"/><stop offset="0.9" stop-color="#141414"/><stop offset="1" stop-color="#131313"/></linearGradient>
<linearGradient id="go19"><stop offset="0" stop-color="#0c0c0c"/><stop offset="0.1" stop-color="#0c0c0c"/><stop offset="0.2" stop-color="#0b0b0b"/><stop offset="0.3" stop-color="#0a0a0a"/><stop offset="0.4" stop-color="#090909"/><stop offset="0.46" stop-color="#090909"/><stop offset="0.49" stop-color="#0a0a0a"/><stop offset="0.51" stop-color="#0e0e0e"/><stop offset="0.53" stop-color="#141414"/><stop offset="0.55" stop-color="#181818"/><stop offset="0.58" stop-color="#1a1a1a"/><stop offset="0.62" stop-color="#191919"/><stop offset="0.66" stop-color="#181818"/><stop offset="0.7" stop-color="#161616"/><stop offset="0.75" stop-color="#151515"/><stop offset="0.8" stop-color="#131313"/><stop offset="0.9" stop-color="#121212"/><stop offset="1" stop-color="#111111"/></linearGradient>
<linearGradient id="go20"><stop offset="0" stop-color="#0b0b0b"/><stop offset="0.1" stop-color="#0a0a0a"/><stop offset="0.2" stop-color="#0a0a0a"/><stop offset="0.3" stop-color="#090909"/><stop offset="0.4" stop-color="#080808"/><stop offset="0.46" stop-color="#080808"/><stop offset="0.49" stop-color="#090909"/><stop offset="0.51" stop-color="#0c0c0c"/><stop offset="0.53" stop-color="#111111"/><stop offset="0.55" stop-color="#151515"/><stop offset="0.58" stop-color="#171717"/><stop offset="0.62" stop-color="#161616"/><stop offset="0.66" stop-color="#151515"/><stop offset="0.7" stop-color="#131313"/><stop offset="0.75" stop-color="#121212"/><stop offset="0.8" stop-color="#111111"/><stop offset="0.9" stop-color="#0f0f0f"/><stop offset="1" stop-color="#0e0e0e"/></linearGradient>
<linearGradient id="go21"><stop offset="0" stop-color="#0a0a0a"/><stop offset="0.1" stop-color="#090909"/><stop offset="0.2" stop-color="#090909"/><stop offset="0.3" stop-color="#080808"/><stop offset="0.4" stop-color="#070707"/><stop offset="0.46" stop-color="#070707"/><stop offset="0.49" stop-color="#080808"/><stop offset="0.51" stop-color="#0b0b0b"/><stop offset="0.53" stop-color="#0f0f0f"/><stop offset="0.55" stop-color="#121212"/><stop offset="0.58" stop-color="#141414"/><stop offset="0.62" stop-color="#131313"/><stop offset="0.66" stop-color="#121212"/><stop offset="0.7" stop-color="#111111"/><stop offset="0.75" stop-color="#101010"/><stop offset="0.8" stop-color="#0f0f0f"/><stop offset="0.9" stop-color="#0d0d0d"/><stop offset="1" stop-color="#0d0d0d"/></linearGradient>
<linearGradient id="go22"><stop offset="0" stop-color="#080808"/><stop offset="0.1" stop-color="#080808"/><stop offset="0.2" stop-color="#080808"/><stop offset="0.3" stop-color="#070707"/><stop offset="0.4" stop-color="#070707"/><stop offset="0.46" stop-color="#060606"/><stop offset="0.49" stop-color="#070707"/><stop offset="0.51" stop-color="#090909"/><stop offset="0.53" stop-color="#0d0d0d"/><stop offset="0.55" stop-color="#101010"/><stop offset="0.58" stop-color="#111111"/><stop offset="0.62" stop-color="#111111"/><stop offset="0.66" stop-color="#0f0f0f"/><stop offset="0.7" stop-color="#0e0e0e"/><stop offset="0.75" stop-color="#0d0d0d"/><stop offset="0.8" stop-color="#0c0c0c"/><stop offset="0.9" stop-color="#0c0c0c"/><stop offset="1" stop-color="#0b0b0b"/></linearGradient>
<linearGradient id="go23"><stop offset="0" stop-color="#080808"/><stop offset="0.1" stop-color="#070707"/><stop offset="0.2" stop-color="#070707"/><stop offset="0.3" stop-color="#060606"/><stop offset="0.4" stop-color="#060606"/><stop offset="0.46" stop-color="#060606"/><stop offset="0.49" stop-color="#060606"/><stop offset="0.51" stop-color="#080808"/><stop offset="0.53" stop-color="#0b0b0b"/><stop offset="0.55" stop-color="#0e0e0e"/><stop offset="0.58" stop-color="#0f0f0f"/><stop offset="0.62" stop-color="#0f0f0f"/><stop offset="0.66" stop-color="#0d0d0d"/><stop offset="0.7" stop-color="#0d0d0d"/><stop offset="0.75" stop-color="#0c0c0c"/><stop offset="0.8" stop-color="#0b0b0b"/><stop offset="0.9" stop-color="#0a0a0a"/><stop offset="1" stop-color="#0a0a0a"/></linearGradient>
<linearGradient id="go24"><stop offset="0" stop-color="#070707"/><stop offset="0.1" stop-color="#060606"/><stop offset="0.2" stop-color="#060606"/><stop offset="0.3" stop-color="#060606"/><stop offset="0.4" stop-color="#050505"/><stop offset="0.46" stop-color="#050505"/><stop offset="0.49" stop-color="#050505"/><stop offset="0.51" stop-color="#070707"/><stop offset="0.53" stop-color="#0a0a0a"/><stop offset="0.55" stop-color="#0c0c0c"/><stop offset="0.58" stop-color="#0d0d0d"/><stop offset="0.62" stop-color="#0c0c0c"/><stop offset="0.66" stop-color="#0c0c0c"/><stop offset="0.7" stop-color="#0b0b0b"/><stop offset="0.75" stop-color="#0a0a0a"/><stop offset="0.8" stop-color="#0a0a0a"/><stop offset="0.9" stop-color="#090909"/><stop offset="1" stop-color="#090909"/></linearGradient>
<linearGradient id="go25"><stop offset="0" stop-color="#060606"/><stop offset="0.1" stop-color="#060606"/><stop offset="0.2" stop-color="#060606"/><stop offset="0.3" stop-color="#050505"/><stop offset="0.4" stop-color="#050505"/><stop offset="0.46" stop-color="#040404"/><stop offset="0.49" stop-color="#050505"/><stop offset="0.51" stop-color="#070707"/><stop offset="0.53" stop-color="#090909"/><stop offset="0.55" stop-color="#0b0b0b"/><stop offset="0.58" stop-color="#0c0c0c"/><stop offset="0.62" stop-color="#0b0b0b"/><stop offset="0.66" stop-color="#0b0b0b"/><stop offset="0.7" stop-color="#0a0a0a"/><stop offset="0.75" stop-color="#090909"/><stop offset="0.8" stop-color="#090909"/><stop offset="0.9" stop-color="#080808"/><stop offset="1" stop-color="#080808"/></linearGradient>
<linearGradient id="go26"><stop offset="0" stop-color="#050505"/><stop offset="0.1" stop-color="#050505"/><stop offset="0.2" stop-color="#050505"/><stop offset="0.3" stop-color="#050505"/><stop offset="0.4" stop-color="#040404"/><stop offset="0.46" stop-color="#040404"/><stop offset="0.49" stop-color="#040404"/><stop offset="0.51" stop-color="#060606"/><stop offset="0.53" stop-color="#080808"/><stop offset="0.55" stop-color="#0a0a0a"/><stop offset="0.58" stop-color="#0a0a0a"/><stop offset="0.62" stop-color="#0a0a0a"/><stop offset="0.66" stop-color="#090909"/><stop offset="0.7" stop-color="#090909"/><stop offset="0.75" stop-color="#080808"/><stop offset="0.8" stop-color="#080808"/><stop offset="0.9" stop-color="#070707"/><stop offset="1" stop-color="#070707"/></linearGradient>
<linearGradient id="go27"><stop offset="0" stop-color="#050505"/><stop offset="0.1" stop-color="#040404"/><stop offset="0.2" stop-color="#040404"/><stop offset="0.3" stop-color="#040404"/><stop offset="0.4" stop-color="#030303"/><stop offset="0.46" stop-color="#030303"/><stop offset="0.49" stop-color="#040404"/><stop offset="0.51" stop-color="#050505"/><stop offset="0.53" stop-color="#070707"/><stop offset="0.55" stop-color="#080808"/><stop offset="0.58" stop-color="#090909"/><stop offset="0.62" stop-color="#080808"/><stop offset="0.66" stop-color="#080808"/><stop offset="0.7" stop-color="#070707"/><stop offset="0.75" stop-color="#070707"/><stop offset="0.8" stop-color="#070707"/><stop offset="0.9" stop-color="#060606"/><stop offset="1" stop-color="#060606"/></linearGradient>
<linearGradient id="go28"><stop offset="0" stop-color="#040404"/><stop offset="0.1" stop-color="#030303"/><stop offset="0.2" stop-color="#030303"/><stop offset="0.3" stop-color="#030303"/><stop offset="0.4" stop-color="#030303"/><stop offset="0.46" stop-color="#030303"/><stop offset="0.49" stop-color="#030303"/><stop offset="0.51" stop-color="#040404"/><stop offset="0.53" stop-color="#050505"/><stop offset="0.55" stop-color="#060606"/><stop offset="0.58" stop-color="#070707"/><stop offset="0.62" stop-color="#070707"/><stop offset="0.66" stop-color="#060606"/><stop offset="0.7" stop-color="#060606"/><stop offset="0.75" stop-color="#060606"/><stop offset="0.8" stop-color="#050505"/><stop offset="0.9" stop-color="#050505"/><stop offset="1" stop-color="#050505"/></linearGradient>
<linearGradient id="go29"><stop offset="0" stop-color="#030303"/><stop offset="0.1" stop-color="#030303"/><stop offset="0.2" stop-color="#030303"/><stop offset="0.3" stop-color="#020202"/><stop offset="0.4" stop-color="#020202"/><stop offset="0.46" stop-color="#020202"/><stop offset="0.49" stop-color="#020202"/><stop offset="0.51" stop-color="#030303"/><stop offset="0.53" stop-color="#040404"/><stop offset="0.55" stop-color="#050505"/><stop offset="0.58" stop-color="#050505"/><stop offset="0.62" stop-color="#050505"/><stop offset="0.66" stop-color="#050505"/><stop offset="0.7" stop-color="#050505"/><stop offset="0.75" stop-color="#040404"/><stop offset="0.8" stop-color="#040404"/><stop offset="0.9" stop-color="#040404"/><stop offset="1" stop-color="#040404"/></linearGradient>
<linearGradient id="go30"><stop offset="0" stop-color="#020202"/><stop offset="0.1" stop-color="#020202"/><stop offset="0.2" stop-color="#020202"/><stop offset="0.3" stop-color="#020202"/><stop offset="0.4" stop-color="#010101"/><stop offset="0.46" stop-color="#010101"/><stop offset="0.49" stop-color="#020202"/><stop offset="0.51" stop-color="#020202"/><stop offset="0.53" stop-color="#030303"/><stop offset="0.55" stop-color="#030303"/><stop offset="0.58" stop-color="#040404"/><stop offset="0.62" stop-color="#030303"/><stop offset="0.66" stop-color="#030303"/><stop offset="0.7" stop-color="#030303"/><stop offset="0.75" stop-color="#030303"/><stop offset="0.8" stop-color="#030303"/><stop offset="0.9" stop-color="#030303"/><stop offset="1" stop-color="#020202"/></linearGradient>
<linearGradient id="go31"><stop offset="0" stop-color="#010101"/><stop offset="0.1" stop-color="#010101"/><stop offset="0.2" stop-color="#010101"/><stop offset="0.3" stop-color="#010101"/><stop offset="0.4" stop-color="#010101"/><stop offset="0.46" stop-color="#010101"/><stop offset="0.49" stop-color="#010101"/><stop offset="0.51" stop-color="#010101"/><stop offset="0.53" stop-color="#020202"/><stop offset="0.55" stop-color="#020202"/><stop offset="0.58" stop-color="#020202"/><stop offset="0.62" stop-color="#020202"/><stop offset="0.66" stop-color="#020202"/><stop offset="0.7" stop-color="#020202"/><stop offset="0.75" stop-color="#020202"/><stop offset="0.8" stop-color="#020202"/><stop offset="0.9" stop-color="#020202"/><stop offset="1" stop-color="#020202"/></linearGradient>
<linearGradient id="go32"><stop offset="0" stop-color="#010101"/><stop offset="0.1" stop-color="#010101"/><stop offset="0.2" stop-color="#010101"/><stop offset="0.3" stop-color="#010101"/><stop offset="0.4" stop-color="#010101"/><stop offset="0.46" stop-color="#000000"/><stop offset="0.49" stop-color="#010101"/><stop offset="0.51" stop-color="#010101"/><stop offset="0.53" stop-color="#010101"/><stop offset="0.55" stop-color="#010101"/><stop offset="0.58" stop-color="#010101"/><stop offset="0.62" stop-color="#010101"/><stop offset="0.66" stop-color="#010101"/><stop offset="0.7" stop-color="#010101"/><stop offset="0.75" stop-color="#010101"/><stop offset="0.8" stop-color="#010101"/><stop offset="0.9" stop-color="#010101"/><stop offset="1" stop-color="#010101"/></linearGradient>
<linearGradient id="go33"><stop offset="0" stop-color="#000000"/><stop offset="0.1" stop-color="#000000"/><stop offset="0.2" stop-color="#000000"/><stop offset="0.3" stop-color="#000000"/><stop offset="0.4" stop-color="#000000"/><stop offset="0.46" stop-color="#000000"/><stop offset="0.49" stop-color="#000000"/><stop offset="0.51" stop-color="#000000"/><stop offset="0.53" stop-color="#000000"/><stop offset="0.55" stop-color="#000000"/><stop offset="0.58" stop-color="#000000"/><stop offset="0.62" stop-color="#000000"/><stop offset="0.66" stop-color="#000000"/><stop offset="0.7" stop-color="#000000"/><stop offset="0.75" stop-color="#000000"/><stop offset="0.8" stop-color="#000000"/><stop offset="0.9" stop-color="#000000"/><stop offset="1" stop-color="#000000"/></linearGradient>
<linearGradient id="fade" x1="0" y1="0" x2="0" y2="1"><stop offset="0" stop-color="#fff" stop-opacity="0"/><stop offset="1" stop-color="#fff" stop-opacity="1"/></linearGradient>
<mask id="mfade" maskContentUnits="objectBoundingBox"><rect x="0" y="0" width="1" height="1" fill="url(#fade)"/></mask>
<filter id="cm0" x="0" y="0" width="1" height="1" color-interpolation-filters="sRGB"><feTurbulence type="fractalNoise" baseFrequency="0.06 0.95" numOctaves="2" seed="7" result="n"/><feColorMatrix in="n" type="matrix" values="3 0 0 0 -1  3 0 0 0 -1  3 0 0 0 -1  0 0 0 0 1" result="N"/><feComponentTransfer in="SourceGraphic" result="sq"><feFuncR type="table" tableValues="0 0.224 0.316 0.387 0.447 0.5 0.548 0.592 0.632 0.671 0.707 0.742 0.775 0.806 0.837 0.866 0.894 0.922 0.949 0.975 1"/><feFuncG type="table" tableValues="0 0.224 0.316 0.387 0.447 0.5 0.548 0.592 0.632 0.671 0.707 0.742 0.775 0.806 0.837 0.866 0.894 0.922 0.949 0.975 1"/><feFuncB type="table" tableValues="0 0.224 0.316 0.387 0.447 0.5 0.548 0.592 0.632 0.671 0.707 0.742 0.775 0.806 0.837 0.866 0.894 0.922 0.949 0.975 1"/></feComponentTransfer><feComposite in="sq" in2="N" operator="arithmetic" k1="0.2889" k2="0" k3="0" k4="0" result="t"/><feComposite in="SourceGraphic" in2="t" operator="arithmetic" k1="0" k2="1" k3="1" k4="0" result="v"/><feComponentTransfer in="v"><feFuncR type="table" tableValues="0.647 0.843 0.957 0.992 0.996 1 0.878 0.671 0.455 0.271 0.192 0.192 0.192"/><feFuncG type="table" tableValues="0 0.188 0.427 0.682 0.878 1 0.953 0.851 0.678 0.459 0.212 0.212 0.212"/><feFuncB type="table" tableValues="0.149 0.153 0.263 0.38 0.565 0.749 0.973 0.914 0.82 0.706 0.584 0.584 0.584"/></feComponentTransfer></filter>
<filter id="cm1" x="0" y="0" width="1" height="1" color-interpolation-filters="sRGB"><feTurbulence type="fractalNoise" baseFrequency="0.06 0.95" numOctaves="2" seed="10" result="n"/><feColorMatrix in="n" type="matrix" values="3 0 0 0 -1  3 0 0 0 -1  3 0 0 0 -1  0 0 0 0 1" result="N"/><feComponentTransfer in="SourceGraphic" result="sq"><feFuncR type="table" tableValues="0 0.224 0.316 0.387 0.447 0.5 0.548 0.592 0.632 0.671 0.707 0.742 0.775 0.806 0.837 0.866 0.894 0.922 0.949 0.975 1"/><feFuncG type="table" tableValues="0 0.224 0.316 0.387 0.447 0.5 0.548 0.592 0.632 0.671 0.707 0.742 0.775 0.806 0.837 0.866 0.894 0.922 0.949 0.975 1"/><feFuncB type="table" tableValues="0 0.224 0.316 0.387 0.447 0.5 0.548 0.592 0.632 0.671 0.707 0.742 0.775 0.806 0.837 0.866 0.894 0.922 0.949 0.975 1"/></feComponentTransfer><feComposite in="sq" in2="N" operator="arithmetic" k1="0.2889" k2="0" k3="0" k4="0" result="t"/><feComposite in="SourceGraphic" in2="t" operator="arithmetic" k1="0" k2="1" k3="1" k4="0" result="v"/><feComponentTransfer in="v"><feFuncR type="table" tableValues="0.647 0.843 0.957 0.992 0.996 1 0.878 0.671 0.455 0.271 0.192 0.192 0.192"/><feFuncG type="table" tableValues="0 0.188 0.427 0.682 0.878 1 0.953 0.851 0.678 0.459 0.212 0.212 0.212"/><feFuncB type="table" tableValues="0.149 0.153 0.263 0.38 0.565 0.749 0.973 0.914 0.82 0.706 0.584 0.584 0.584"/></feComponentTransfer></filter>
<filter id="cm2" x="0" y="0" width="1" height="1" color-interpolation-filters="sRGB"><feTurbulence type="fractalNoise" baseFrequency="0.06 0.95" numOctaves="2" seed="13" result="n"/><feColorMatrix in="n" type="matrix" values="3 0 0 0 -1  3 0 0 0 -1  3 0 0 0 -1  0 0 0 0 1" result="N"/><feComponentTransfer in="SourceGraphic" result="sq"><feFuncR type="table" tableValues="0 0.224 0.316 0.387 0.447 0.5 0.548 0.592 0.632 0.671 0.707 0.742 0.775 0.806 0.837 0.866 0.894 0.922 0.949 0.975 1"/><feFuncG type="table" tableValues="0 0.224 0.316 0.387 0.447 0.5 0.548 0.592 0.632 0.671 0.707 0.742 0.775 0.806 0.837 0.866 0.894 0.922 0.949 0.975 1"/><feFuncB type="table" tableValues="0 0.224 0.316 0.387 0.447 0.5 0.548 0.592 0.632 0.671 0.707 0.742 0.775 0.806 0.837 0.866 0.894 0.922 0.949 0.975 1"/></feComponentTransfer><feComposite in="sq" in2="N" operator="arithmetic" k1="0.2889" k2="0" k3="0" k4="0" result="t"/><feComposite in="SourceGraphic" in2="t" operator="arithmetic" k1="0" k2="1" k3="1" k4="0" result="v"/><feComponentTransfer in="v"><feFuncR type="table" tableValues="0.647 0.843 0.957 0.992 0.996 1 0.878 0.671 0.455 0.271 0.192 0.192 0.192"/><feFuncG type="table" tableValues="0 0.188 0.427 0.682 0.878 1 0.953 0.851 0.678 0.459 0.212 0.212 0.212"/><feFuncB type="table" tableValues="0.149 0.153 0.263 0.38 0.565 0.749 0.973 0.914 0.82 0.706 0.584 0.584 0.584"/></feComponentTransfer></filter>
<filter id="cm3" x="0" y="0" width="1" height="1" color-interpolation-filters="sRGB"><feTurbulence type="fractalNoise" baseFrequency="0.14 0.95" numOctaves="2" seed="16" result="n"/><feColorMatrix in="n" type="matrix" values="3 0 0 0 -1  3 0 0 0 -1  3 0 0 0 -1  0 0 0 0 1" result="N"/><feComponentTransfer in="SourceGraphic" result="sq"><feFuncR type="table" tableValues="0 0.224 0.316 0.387 0.447 0.5 0.548 0.592 0.632 0.671 0.707 0.742 0.775 0.806 0.837 0.866 0.894 0.922 0.949 0.975 1"/><feFuncG type="table" tableValues="0 0.224 0.316 0.387 0.447 0.5 0.548 0.592 0.632 0.671 0.707 0.742 0.775 0.806 0.837 0.866 0.894 0.922 0.949 0.975 1"/><feFuncB type="table" tableValues="0 0.224 0.316 0.387 0.447 0.5 0.548 0.592 0.632 0.671 0.707 0.742 0.775 0.806 0.837 0.866 0.894 0.922 0.949 0.975 1"/></feComponentTransfer><feComposite in="sq" in2="N" operator="arithmetic" k1="0.2889" k2="0" k3="0" k4="0" result="t"/><feComposite in="SourceGraphic" in2="t" operator="arithmetic" k1="0" k2="1" k3="1" k4="0" result="v"/><feComponentTransfer in="v"><feFuncR type="table" tableValues="0.647 0.843 0.957 0.992 0.996 1 0.878 0.671 0.455 0.271 0.192 0.192 0.192"/><feFuncG type="table" tableValues="0 0.188 0.427 0.682 0.878 1 0.953 0.851 0.678 0.459 0.212 0.212 0.212"/><feFuncB type="table" tableValues="0.149 0.153 0.263 0.38 0.565 0.749 0.973 0.914 0.82 0.706 0.584 0.584 0.584"/></feComponentTransfer></filter>
<filter id="cm4" x="0" y="0" width="1" height="1" color-interpolation-filters="sRGB"><feTurbulence type="fractalNoise" baseFrequency="0.14 0.95" numOctaves="2" seed="19" result="n"/><feColorMatrix in="n" type="matrix" values="3 0 0 0 -1  3 0 0 0 -1  3 0 0 0 -1  0 0 0 0 1" result="N"/><feComponentTransfer in="SourceGraphic" result="sq"><feFuncR type="table" tableValues="0 0.224 0.316 0.387 0.447 0.5 0.548 0.592 0.632 0.671 0.707 0.742 0.775 0.806 0.837 0.866 0.894 0.922 0.949 0.975 1"/><feFuncG type="table" tableValues="0 0.224 0.316 0.387 0.447 0.5 0.548 0.592 0.632 0.671 0.707 0.742 0.775 0.806 0.837 0.866 0.894 0.922 0.949 0.975 1"/><feFuncB type="table" tableValues="0 0.224 0.316 0.387 0.447 0.5 0.548 0.592 0.632 0.671 0.707 0.742 0.775 0.806 0.837 0.866 0.894 0.922 0.949 0.975 1"/></feComponentTransfer><feComposite in="sq" in2="N" operator="arithmetic" k1="0.2889" k2="0" k3="0" k4="0" result="t"/><feComposite in="SourceGraphic" in2="t" operator="arithmetic" k1="0" k2="1" k3="1" k4="0" result="v"/><feComponentTransfer in="v"><feFuncR type="table" tableValues="0.647 0.843 0.957 0.992 0.996 1 0.878 0.671 0.455 0.271 0.192 0.192 0.192"/><feFuncG type="table" tableValues="0 0.188 0.427 0.682 0.878 1 0.953 0.851 0.678 0.459 0.212 0.212 0.212"/><feFuncB type="table" tableValues="0.149 0.153 0.263 0.38 0.565 0.749 0.973 0.914 0.82 0.706 0.584 0.584 0.584"/></feComponentTransfer></filter>
<filter id="cm5" x="0" y="0" width="1" height="1" color-interpolation-filters="sRGB"><feTurbulence type="fractalNoise" baseFrequency="0.14 0.95" numOctaves="2" seed="22" result="n"/><feColorMatrix in="n" type="matrix" values="3 0 0 0 -1  3 0 0 0 -1  3 0 0 0 -1  0 0 0 0 1" result="N"/><feComponentTransfer in="SourceGraphic" result="sq"><feFuncR type="table" tableValues="0 0.224 0.316 0.387 0.447 0.5 0.548 0.592 0.632 0.671 0.707 0.742 0.775 0.806 0.837 0.866 0.894 0.922 0.949 0.975 1"/><feFuncG type="table" tableValues="0 0.224 0.316 0.387 0.447 0.5 0.548 0.592 0.632 0.671 0.707 0.742 0.775 0.806 0.837 0.866 0.894 0.922 0.949 0.975 1"/><feFuncB type="table" tableValues="0 0.224 0.316 0.387 0.447 0.5 0.548 0.592 0.632 0.671 0.707 0.742 0.775 0.806 0.837 0.866 0.894 0.922 0.949 0.975 1"/></feComponentTransfer><feComposite in="sq" in2="N" operator="arithmetic" k1="0.2889" k2="0" k3="0" k4="0" result="t"/><feComposite in="SourceGraphic" in2="t" operator="arithmetic" k1="0" k2="1" k3="1" k4="0" result="v"/><feComponentTransfer in="v"><feFuncR type="table" tableValues="0.647 0.843 0.957 0.992 0.996 1 0.878 0.671 0.455 0.271 0.192 0.192 0.192"/><feFuncG type="table" tableValues="0 0.188 0.427 0.682 0.878 1 0.953 0.851 0.678 0.459 0.212 0.212 0.212"/><feFuncB type="table" tableValues="0.149 0.153 0.263 0.38 0.565 0.749 0.973 0.914 0.82 0.706 0.584 0.584 0.584"/></feComponentTransfer></filter>
<linearGradient id="cbar" x1="0" y1="0" x2="0" y2="1"><stop offset="0" stop-color="#313695"/><stop offset="0.1" stop-color="#4575b4"/><stop offset="0.2" stop-color="#74add1"/><stop offset="0.3" stop-color="#abd9e9"/><stop offset="0.4" stop-color="#e0f3f8"/><stop offset="0.5" stop-color="#ffffbf"/><stop offset="0.6" stop-color="#fee090"/><stop offset="0.7" stop-color="#fdae61"/><stop offset="0.8" stop-color="#f46d43"/><stop offset="0.9" stop-color="#d73027"/><stop offset="1" stop-color="#a50026"/></linearGradient>
<linearGradient id="rgb1" x1="0" y1="0" x2="1" y2="0"><stop offset="0" stop-color="#ff0000"/><stop offset="0.5" stop-color="#00ff00"/><stop offset="1" stop-color="#0000ff"/></linearGradient>
<linearGradient id="rgb2" x1="0" y1="0" x2="0" y2="1"><stop offset="0" stop-color="#ff0000"/><stop offset="0.5" stop-color="#00ff00"/><stop offset="1" stop-color="#0000ff"/></linearGradient>
</defs>
<g id="panelA">
<text transform="translate(5.79,25) scale(0.951,1)" font-size="29.82" font-weight="700">A</text>
<polyline clip-path="url(#cp0)" points="50.4,181.2 54.3,181.2 63,181 72.5,180.6 81,179.6 89.5,178.4 97,177.6 103.8,177.1 106.5,175.6 109,172.8 111.4,169.3 113.5,165 115.5,158.6 117.4,150.6 118.8,141.5 120,131.1 121.4,118.5 122.7,105.1 123.7,94 124.6,83 125.4,73.5 126.2,66.4 127.6,64.3 129.2,63.2 130.4,61.4 131.2,60.8 132,62.5 132.8,67.5 133.8,79 134.8,92 135.9,103 137,112.9 138.3,121.5 139.6,128.5 141.7,136.4 144.1,142.8 146.6,147.3 149.3,150.6 151.9,152.8 154.5,154.3 157,154.5 159.7,154.8 161.4,155.2 163,155.5 165,155 166.9,154.6 170,154.4 172.8,154.5 178,155 183.2,155.6 190,156.2 196.2,156.9 201,157.7 205.3,158.7 208.6,159" fill="none" stroke="#16168d" stroke-width="5.8" stroke-linejoin="round" stroke-linecap="round"/>
<rect x="52.4" y="54.6" width="154.2" height="145.7" fill="none" stroke="#000" stroke-width="3.3"/>
<line x1="47.15" y1="181.2" x2="50.95" y2="181.2" stroke="#000" stroke-width="3.3"/>
<line x1="47.15" y1="139" x2="50.95" y2="139" stroke="#000" stroke-width="3.3"/>
<line x1="47.15" y1="96.8" x2="50.95" y2="96.8" stroke="#000" stroke-width="3.3"/>
<line x1="47.15" y1="54.6" x2="50.95" y2="54.6" stroke="#000" stroke-width="3.3"/>
<line x1="52.4" y1="201.75" x2="52.4" y2="205.55" stroke="#000" stroke-width="3.3"/>
<line x1="129.5" y1="201.75" x2="129.5" y2="205.55" stroke="#000" stroke-width="2.9"/>
<line x1="206.6" y1="201.75" x2="206.6" y2="205.55" stroke="#000" stroke-width="3.3"/>
<text transform="translate(119.32,45.6) scale(0.7819,1)" font-size="29.09" stroke="#000" stroke-width="0.35">H1</text>
<text transform="translate(52.36,220.3) scale(0.9712,1)" font-size="19.21" stroke="#000" stroke-width="0.35">-2.0</text>
<text transform="translate(117.86,220.3) scale(0.7818,1)" font-size="19.21" stroke="#000" stroke-width="0.35">TSS</text>
<text transform="translate(169.31,220.3) scale(0.9306,1)" font-size="19.21" stroke="#000" stroke-width="0.35">2.0Kb</text>
<text transform="translate(52.36,1275.8) scale(0.9712,1)" font-size="19.21" stroke="#000" stroke-width="0.35">-2.0</text>
<text transform="translate(117.86,1275.8) scale(0.7818,1)" font-size="19.21" stroke="#000" stroke-width="0.35">TSS</text>
<text transform="translate(169.31,1275.8) scale(0.9306,1)" font-size="19.21" stroke="#000" stroke-width="0.35">2.0Kb</text>
<text transform="translate(70.41,1294.5) scale(0.9661,1)" font-size="19.31" stroke="#000" stroke-width="0.35">gene distance (bp)</text>
<polyline clip-path="url(#cp1)" points="217.2,181.5 221.1,181.5 229.8,181.3 239.3,180.9 247.8,179.9 256.3,178.7 263.8,177.9 270.6,177.4 273.3,175.9 275.8,173.1 278.2,169.6 280.3,165.3 282.3,158.9 284.2,150.9 285.6,141.8 286.8,131.4 288.2,118.8 289.5,105.4 290.5,94.3 291.4,83.3 292.2,73.8 293,66.7 294.4,64.6 296,63.5 297.2,61.7 298,61.1 298.8,62.8 299.6,67.8 300.6,79.3 301.6,92.3 302.7,103.3 303.8,113.2 305.1,121.8 306.4,128.8 308.5,136.7 310.9,143.1 313.4,147.6 316.1,150.9 318.7,153.1 321.3,154.6 323.8,154.8 326.5,155.1 328.2,155.5 329.8,155.8 331.8,155.3 333.7,154.9 336.8,154.7 339.6,154.8 344.8,155.3 350,155.9 356.8,156.5 363,157.2 367.8,158 372.1,159 375.4,159.3" fill="none" stroke="#16168d" stroke-width="5.8" stroke-linejoin="round" stroke-linecap="round"/>
<rect x="219.16" y="54.6" width="154.2" height="145.7" fill="none" stroke="#000" stroke-width="3.3"/>
<line x1="213.91" y1="181.2" x2="217.71" y2="181.2" stroke="#000" stroke-width="3.3"/>
<line x1="213.91" y1="139" x2="217.71" y2="139" stroke="#000" stroke-width="3.3"/>
<line x1="213.91" y1="96.8" x2="217.71" y2="96.8" stroke="#000" stroke-width="3.3"/>
<line x1="213.91" y1="54.6" x2="217.71" y2="54.6" stroke="#000" stroke-width="3.3"/>
<line x1="219.16" y1="201.75" x2="219.16" y2="205.55" stroke="#000" stroke-width="3.3"/>
<line x1="296.26" y1="201.75" x2="296.26" y2="205.55" stroke="#000" stroke-width="2.9"/>
<line x1="373.36" y1="201.75" x2="373.36" y2="205.55" stroke="#000" stroke-width="3.3"/>
<text transform="translate(285.87,45.6) scale(0.8886,1)" font-size="29.09" stroke="#000" stroke-width="0.35">H2</text>
<text transform="translate(219.12,220.3) scale(0.9712,1)" font-size="19.21" stroke="#000" stroke-width="0.35">-2.0</text>
<text transform="translate(284.62,220.3) scale(0.7818,1)" font-size="19.21" stroke="#000" stroke-width="0.35">TSS</text>
<text transform="translate(336.07,220.3) scale(0.9306,1)" font-size="19.21" stroke="#000" stroke-width="0.35">2.0Kb</text>
<text transform="translate(219.12,1275.8) scale(0.9712,1)" font-size="19.21" stroke="#000" stroke-width="0.35">-2.0</text>
<text transform="translate(284.62,1275.8) scale(0.7818,1)" font-size="19.21" stroke="#000" stroke-width="0.35">TSS</text>
<text transform="translate(336.07,1275.8) scale(0.9306,1)" font-size="19.21" stroke="#000" stroke-width="0.35">2.0Kb</text>
<text transform="translate(237.17,1294.5) scale(0.9661,1)" font-size="19.31" stroke="#000" stroke-width="0.35">gene distance (bp)</text>
<polyline clip-path="url(#cp2)" points="383.9,181.7 387.8,181.7 396.5,181.5 406,181.1 414.5,180.1 423,178.9 430.5,178.1 437.3,177.6 440,176.1 442.5,173.3 444.9,169.8 447,165.5 449,159.1 450.9,151.1 452.3,142 453.5,131.6 454.9,119 456.2,105.6 457.2,94.5 458.1,83.5 458.9,74 459.7,66.9 461.1,64.8 462.7,63.7 463.9,61.9 464.7,61.3 465.5,63 466.3,68 467.3,79.5 468.3,92.5 469.4,103.5 470.5,113.4 471.8,122 473.1,129 475.2,136.9 477.6,143.3 480.1,147.8 482.8,151.1 485.4,153.3 488,154.8 490.5,155 493.2,155.3 494.9,155.7 496.5,156 498.5,155.5 500.4,155.1 503.5,154.9 506.3,155 511.5,155.5 516.7,156.1 523.5,156.7 529.7,157.4 534.5,158.2 538.8,159.2 542.1,159.5" fill="none" stroke="#16168d" stroke-width="5.8" stroke-linejoin="round" stroke-linecap="round"/>
<rect x="385.92" y="54.6" width="154.2" height="145.7" fill="none" stroke="#000" stroke-width="3.3"/>
<line x1="380.67" y1="181.2" x2="384.47" y2="181.2" stroke="#000" stroke-width="3.3"/>
<line x1="380.67" y1="139" x2="384.47" y2="139" stroke="#000" stroke-width="3.3"/>
<line x1="380.67" y1="96.8" x2="384.47" y2="96.8" stroke="#000" stroke-width="3.3"/>
<line x1="380.67" y1="54.6" x2="384.47" y2="54.6" stroke="#000" stroke-width="3.3"/>
<line x1="385.92" y1="201.75" x2="385.92" y2="205.55" stroke="#000" stroke-width="3.3"/>
<line x1="463.02" y1="201.75" x2="463.02" y2="205.55" stroke="#000" stroke-width="2.9"/>
<line x1="540.12" y1="201.75" x2="540.12" y2="205.55" stroke="#000" stroke-width="3.3"/>
<text transform="translate(452.55,45.6) scale(0.856,1)" font-size="29.09" stroke="#000" stroke-width="0.35">H3</text>
<text transform="translate(385.88,220.3) scale(0.9712,1)" font-size="19.21" stroke="#000" stroke-width="0.35">-2.0</text>
<text transform="translate(451.38,220.3) scale(0.7818,1)" font-size="19.21" stroke="#000" stroke-width="0.35">TSS</text>
<text transform="translate(502.83,220.3) scale(0.9306,1)" font-size="19.21" stroke="#000" stroke-width="0.35">2.0Kb</text>
<text transform="translate(385.88,1275.8) scale(0.9712,1)" font-size="19.21" stroke="#000" stroke-width="0.35">-2.0</text>
<text transform="translate(451.38,1275.8) scale(0.7818,1)" font-size="19.21" stroke="#000" stroke-width="0.35">TSS</text>
<text transform="translate(502.83,1275.8) scale(0.9306,1)" font-size="19.21" stroke="#000" stroke-width="0.35">2.0Kb</text>
<text transform="translate(403.93,1294.5) scale(0.9661,1)" font-size="19.31" stroke="#000" stroke-width="0.35">gene distance (bp)</text>
<polyline clip-path="url(#cp3)" points="550.7,191.5 555,191.5 559,190.9 563,192.2 567.2,193.2 572,192.6 578.1,192.8 584.9,194.2 590.3,193.9 594,195.4 598.5,196.6 603,196.2 608,196.4 614.8,197.2 620.2,196.6 622.4,195.2 624.3,193.2 626.6,191.6 628.4,189.8 629.5,186.2 630.4,181.7 631.4,176.8 632.5,172.2 633.4,169 634.5,166.7 635.8,165 637.2,164 639.2,163.8 641.3,163.3 643,164.1 644.7,165.4 646.8,167.6 648.8,169.4 651.5,170.6 654.2,171.9 657.6,173.6 661,174.9 663.8,174.5 666.5,174.6 670.5,176 674.6,176.9 678.7,177.8 682.8,178.7 686.2,178.8 689.6,178.4 693.7,177.6 696.4,178.6 699.1,179.2 704.6,180 708.9,180.3" fill="none" stroke="#16168d" stroke-width="5.8" stroke-linejoin="round" stroke-linecap="round"/>
<rect x="552.68" y="54.6" width="154.2" height="145.7" fill="none" stroke="#000" stroke-width="3.3"/>
<line x1="547.43" y1="181.2" x2="551.23" y2="181.2" stroke="#000" stroke-width="3.3"/>
<line x1="547.43" y1="139" x2="551.23" y2="139" stroke="#000" stroke-width="3.3"/>
<line x1="547.43" y1="96.8" x2="551.23" y2="96.8" stroke="#000" stroke-width="3.3"/>
<line x1="547.43" y1="54.6" x2="551.23" y2="54.6" stroke="#000" stroke-width="3.3"/>
<line x1="552.68" y1="201.75" x2="552.68" y2="205.55" stroke="#000" stroke-width="3.3"/>
<line x1="629.78" y1="201.75" x2="629.78" y2="205.55" stroke="#000" stroke-width="2.9"/>
<line x1="706.88" y1="201.75" x2="706.88" y2="205.55" stroke="#000" stroke-width="3.3"/>
<text transform="translate(618.87,45.6) scale(0.8194,1)" font-size="29.09" stroke="#000" stroke-width="0.35">O1</text>
<text transform="translate(552.64,220.3) scale(0.9712,1)" font-size="19.21" stroke="#000" stroke-width="0.35">-2.0</text>
<text transform="translate(618.14,220.3) scale(0.7818,1)" font-size="19.21" stroke="#000" stroke-width="0.35">TSS</text>
<text transform="translate(669.59,220.3) scale(0.9306,1)" font-size="19.21" stroke="#000" stroke-width="0.35">2.0Kb</text>
<text transform="translate(552.64,1275.8) scale(0.9712,1)" font-size="19.21" stroke="#000" stroke-width="0.35">-2.0</text>
<text transform="translate(618.14,1275.8) scale(0.7818,1)" font-size="19.21" stroke="#000" stroke-width="0.35">TSS</text>
<text transform="translate(669.59,1275.8) scale(0.9306,1)" font-size="19.21" stroke="#000" stroke-width="0.35">2.0Kb</text>
<text transform="translate(570.69,1294.5) scale(0.9661,1)" font-size="19.31" stroke="#000" stroke-width="0.35">gene distance (bp)</text>
<polyline clip-path="url(#cp4)" points="717.4,190.5 721.6,190.5 727.7,189.8 731.8,191.2 735.8,191.9 740,191.4 744,190.5 748,191.8 752.2,192.6 760.3,193.2 765,194.8 769.8,196 772.5,195.2 775.3,194.2 778,195.4 780.7,196 787.5,195.3 790.5,193.2 793,190.5 794.6,187.8 795.7,184.4 796.7,179 797.7,173.5 798.8,169 799.8,165.4 801.4,163.6 803.2,162.6 805.2,162.4 807.2,161.6 809.6,162.6 812,164 814.7,166.5 817.4,168.8 820.8,170.4 824.2,171.5 828.3,172.6 832.4,173.5 835.8,173.4 839.2,173.8 842.6,175.2 846,176.2 849.4,177.1 852.8,177.6 857,176.4 861,175.6 863.8,176.6 866.4,177.3 871.2,177.9 875.6,178.2" fill="none" stroke="#16168d" stroke-width="5.8" stroke-linejoin="round" stroke-linecap="round"/>
<rect x="719.44" y="54.6" width="154.2" height="145.7" fill="none" stroke="#000" stroke-width="3.3"/>
<line x1="714.19" y1="181.2" x2="717.99" y2="181.2" stroke="#000" stroke-width="3.3"/>
<line x1="714.19" y1="139" x2="717.99" y2="139" stroke="#000" stroke-width="3.3"/>
<line x1="714.19" y1="96.8" x2="717.99" y2="96.8" stroke="#000" stroke-width="3.3"/>
<line x1="714.19" y1="54.6" x2="717.99" y2="54.6" stroke="#000" stroke-width="3.3"/>
<line x1="719.44" y1="201.75" x2="719.44" y2="205.55" stroke="#000" stroke-width="3.3"/>
<line x1="796.54" y1="201.75" x2="796.54" y2="205.55" stroke="#000" stroke-width="2.9"/>
<line x1="873.64" y1="201.75" x2="873.64" y2="205.55" stroke="#000" stroke-width="3.3"/>
<text transform="translate(785.59,45.6) scale(0.874,1)" font-size="29.09" stroke="#000" stroke-width="0.35">O2</text>
<text transform="translate(719.4,220.3) scale(0.9712,1)" font-size="19.21" stroke="#000" stroke-width="0.35">-2.0</text>
<text transform="translate(784.9,220.3) scale(0.7818,1)" font-size="19.21" stroke="#000" stroke-width="0.35">TSS</text>
<text transform="translate(836.35,220.3) scale(0.9306,1)" font-size="19.21" stroke="#000" stroke-width="0.35">2.0Kb</text>
<text transform="translate(719.4,1275.8) scale(0.9712,1)" font-size="19.21" stroke="#000" stroke-width="0.35">-2.0</text>
<text transform="translate(784.9,1275.8) scale(0.7818,1)" font-size="19.21" stroke="#000" stroke-width="0.35">TSS</text>
<text transform="translate(836.35,1275.8) scale(0.9306,1)" font-size="19.21" stroke="#000" stroke-width="0.35">2.0Kb</text>
<text transform="translate(737.45,1294.5) scale(0.9661,1)" font-size="19.31" stroke="#000" stroke-width="0.35">gene distance (bp)</text>
<polyline clip-path="url(#cp5)" points="884.2,191.5 889.5,191.5 894,192 898.4,193.1 905,192.2 911.9,192.7 916.4,193.8 920.8,194.4 927.5,195.8 934.3,197.1 943,197.5 952.2,197.1 955.8,195.4 958.9,192.7 961.4,188.8 963.4,183.7 965.1,177 966.7,170.3 968.8,165.5 971.2,163.1 973.4,162.3 975.7,162.4 978.5,164.3 981.3,166.9 984.6,169.6 988,172 992.5,173.8 997,175.2 1001.5,174.6 1005.9,174.7 1011.5,176.6 1017.1,178.1 1021.6,178.2 1026.1,178.8 1031.7,178.6 1037.3,179.7 1042.4,180" fill="none" stroke="#16168d" stroke-width="5.8" stroke-linejoin="round" stroke-linecap="round"/>
<rect x="886.2" y="54.6" width="154.2" height="145.7" fill="none" stroke="#000" stroke-width="3.3"/>
<line x1="880.95" y1="181.2" x2="884.75" y2="181.2" stroke="#000" stroke-width="3.3"/>
<line x1="880.95" y1="139" x2="884.75" y2="139" stroke="#000" stroke-width="3.3"/>
<line x1="880.95" y1="96.8" x2="884.75" y2="96.8" stroke="#000" stroke-width="3.3"/>
<line x1="880.95" y1="54.6" x2="884.75" y2="54.6" stroke="#000" stroke-width="3.3"/>
<line x1="886.2" y1="201.75" x2="886.2" y2="205.55" stroke="#000" stroke-width="3.3"/>
<line x1="963.3" y1="201.75" x2="963.3" y2="205.55" stroke="#000" stroke-width="2.9"/>
<line x1="1040.4" y1="201.75" x2="1040.4" y2="205.55" stroke="#000" stroke-width="3.3"/>
<text transform="translate(952.53,45.6) scale(0.8493,1)" font-size="29.09" stroke="#000" stroke-width="0.35">O3</text>
<text transform="translate(886.16,220.3) scale(0.9712,1)" font-size="19.21" stroke="#000" stroke-width="0.35">-2.0</text>
<text transform="translate(951.66,220.3) scale(0.7818,1)" font-size="19.21" stroke="#000" stroke-width="0.35">TSS</text>
<text transform="translate(1003.11,220.3) scale(0.9306,1)" font-size="19.21" stroke="#000" stroke-width="0.35">2.0Kb</text>
<text transform="translate(886.16,1275.8) scale(0.9712,1)" font-size="19.21" stroke="#000" stroke-width="0.35">-2.0</text>
<text transform="translate(951.66,1275.8) scale(0.7818,1)" font-size="19.21" stroke="#000" stroke-width="0.35">TSS</text>
<text transform="translate(1003.11,1275.8) scale(0.9306,1)" font-size="19.21" stroke="#000" stroke-width="0.35">2.0Kb</text>
<text transform="translate(904.21,1294.5) scale(0.9661,1)" font-size="19.31" stroke="#000" stroke-width="0.35">gene distance (bp)</text>
<text transform="translate(33.95,186.7) scale(0.95,1)" font-size="19.5" stroke="#000" stroke-width="0.35">2</text>
<text transform="translate(33.53,144.5) scale(0.95,1)" font-size="19.5" stroke="#000" stroke-width="0.35">4</text>
<text transform="translate(33.81,102.3) scale(0.95,1)" font-size="19.5" stroke="#000" stroke-width="0.35">6</text>
<text transform="translate(33.81,60.1) scale(0.95,1)" font-size="19.5" stroke="#000" stroke-width="0.35">8</text>
<text transform="translate(39,765.01) rotate(-90) scale(0.9094,1)" font-size="31.4" stroke="#000" stroke-width="0.35">genes</text>
<line x1="953.3" y1="70.8" x2="983.5" y2="70.8" stroke="#16168d" stroke-width="5.6"/>
<text transform="translate(990.87,75.7) scale(0.8858,1)" font-size="14.03" stroke="#000" stroke-width="0.2">genes</text>
<g filter="url(#cm0)">
<rect x="53" y="239" width="153" height="1016.6" fill="url(#gh0)"/>
<rect x="53" y="240" width="153" height="6" fill="url(#gh0)"/>
<rect x="53" y="240" width="153" height="6" fill="url(#gh1)" mask="url(#mfade)"/>
<rect x="53" y="246" width="153" height="6" fill="url(#gh1)"/>
<rect x="53" y="246" width="153" height="6" fill="url(#gh2)" mask="url(#mfade)"/>
<rect x="53" y="252" width="153" height="8" fill="url(#gh2)"/>
<rect x="53" y="252" width="153" height="8" fill="url(#gh3)" mask="url(#mfade)"/>
<rect x="53" y="260" width="153" height="10" fill="url(#gh3)"/>
<rect x="53" y="260" width="153" height="10" fill="url(#gh4)" mask="url(#mfade)"/>
<rect x="53" y="270" width="153" height="21" fill="url(#gh4)"/>
<rect x="53" y="270" width="153" height="21" fill="url(#gh5)" mask="url(#mfade)"/>
<rect x="53" y="291" width="153" height="20" fill="url(#gh5)"/>
<rect x="53" y="291" width="153" height="20" fill="url(#gh6)" mask="url(#mfade)"/>
<rect x="53" y="311" width="153" height="20" fill="url(#gh6)"/>
<rect x="53" y="311" width="153" height="20" fill="url(#gh7)" mask="url(#mfade)"/>
<rect x="53" y="331" width="153" height="21" fill="url(#gh7)"/>
<rect x="53" y="331" width="153" height="21" fill="url(#gh8)" mask="url(#mfade)"/>
<rect x="53" y="352" width="153" height="20" fill="url(#gh8)"/>
<rect x="53" y="352" width="153" height="20" fill="url(#gh9)" mask="url(#mfade)"/>
<rect x="53" y="372" width="153" height="20" fill="url(#gh9)"/>
<rect x="53" y="372" width="153" height="20" fill="url(#gh10)" mask="url(#mfade)"/>
<rect x="53" y="392" width="153" height="20" fill="url(#gh10)"/>
<rect x="53" y="392" width="153" height="20" fill="url(#gh11)" mask="url(#mfade)"/>
<rect x="53" y="412" width="153" height="21" fill="url(#gh11)"/>
<rect x="53" y="412" width="153" height="21" fill="url(#gh12)" mask="url(#mfade)"/>
<rect x="53" y="433" width="153" height="30" fill="url(#gh12)"/>
<rect x="53" y="433" width="153" height="30" fill="url(#gh13)" mask="url(#mfade)"/>
<rect x="53" y="463" width="153" height="31" fill="url(#gh13)"/>
<rect x="53" y="463" width="153" height="31" fill="url(#gh14)" mask="url(#mfade)"/>
<rect x="53" y="494" width="153" height="50" fill="url(#gh14)"/>
<rect x="53" y="494" width="153" height="50" fill="url(#gh15)" mask="url(#mfade)"/>
<rect x="53" y="544" width="153" height="51" fill="url(#gh15)"/>
<rect x="53" y="544" width="153" height="51" fill="url(#gh16)" mask="url(#mfade)"/>
<rect x="53" y="595" width="153" height="76" fill="url(#gh16)"/>
<rect x="53" y="595" width="153" height="76" fill="url(#gh17)" mask="url(#mfade)"/>
<rect x="53" y="671" width="153" height="76" fill="url(#gh17)"/>
<rect x="53" y="671" width="153" height="76" fill="url(#gh18)" mask="url(#mfade)"/>
<rect x="53" y="747" width="153" height="76" fill="url(#gh18)"/>
<rect x="53" y="747" width="153" height="76" fill="url(#gh19)" mask="url(#mfade)"/>
<rect x="53" y="823" width="153" height="76" fill="url(#gh19)"/>
<rect x="53" y="823" width="153" height="76" fill="url(#gh20)" mask="url(#mfade)"/>
<rect x="53" y="899" width="153" height="51" fill="url(#gh20)"/>
<rect x="53" y="899" width="153" height="51" fill="url(#gh21)" mask="url(#mfade)"/>
<rect x="53" y="950" width="153" height="51" fill="url(#gh21)"/>
<rect x="53" y="950" width="153" height="51" fill="url(#gh22)" mask="url(#mfade)"/>
<rect x="53" y="1001" width="153" height="30" fill="url(#gh22)"/>
<rect x="53" y="1001" width="153" height="30" fill="url(#gh23)" mask="url(#mfade)"/>
<rect x="53" y="1031" width="153" height="31" fill="url(#gh23)"/>
<rect x="53" y="1031" width="153" height="31" fill="url(#gh24)" mask="url(#mfade)"/>
<rect x="53" y="1062" width="153" height="30" fill="url(#gh24)"/>
<rect x="53" y="1062" width="153" height="30" fill="url(#gh25)" mask="url(#mfade)"/>
<rect x="53" y="1092" width="153" height="31" fill="url(#gh25)"/>
<rect x="53" y="1092" width="153" height="31" fill="url(#gh26)" mask="url(#mfade)"/>
<rect x="53" y="1123" width="153" height="25" fill="url(#gh26)"/>
<rect x="53" y="1123" width="153" height="25" fill="url(#gh27)" mask="url(#mfade)"/>
<rect x="53" y="1148" width="153" height="25" fill="url(#gh27)"/>
<rect x="53" y="1148" width="153" height="25" fill="url(#gh28)" mask="url(#mfade)"/>
<rect x="53" y="1173" width="153" height="16" fill="url(#gh28)"/>
<rect x="53" y="1173" width="153" height="16" fill="url(#gh29)" mask="url(#mfade)"/>
<rect x="53" y="1189" width="153" height="15" fill="url(#gh29)"/>
<rect x="53" y="1189" width="153" height="15" fill="url(#gh30)" mask="url(#mfade)"/>
<rect x="53" y="1204" width="153" height="13" fill="url(#gh30)"/>
<rect x="53" y="1204" width="153" height="13" fill="url(#gh31)" mask="url(#mfade)"/>
<rect x="53" y="1217" width="153" height="12" fill="url(#gh31)"/>
<rect x="53" y="1217" width="153" height="12" fill="url(#gh32)" mask="url(#mfade)"/>
<rect x="53" y="1229" width="153" height="27" fill="url(#gh32)"/>
<rect x="53" y="1229" width="153" height="27" fill="url(#gh33)" mask="url(#mfade)"/>
</g>
<rect x="52.35" y="238.65" width="153.95" height="1017.45" fill="none" stroke="#000" stroke-width="2.8"/>
<line x1="52.4" y1="1257.3" x2="52.4" y2="1261.1" stroke="#000" stroke-width="2.8"/>
<line x1="129.35" y1="1257.3" x2="129.35" y2="1261.1" stroke="#000" stroke-width="2.8"/>
<line x1="206.3" y1="1257.3" x2="206.3" y2="1261.1" stroke="#000" stroke-width="2.8"/>
<g filter="url(#cm1)">
<rect x="219.76" y="239" width="153" height="1016.6" fill="url(#gh0)"/>
<rect x="219.76" y="240" width="153" height="6" fill="url(#gh0)"/>
<rect x="219.76" y="240" width="153" height="6" fill="url(#gh1)" mask="url(#mfade)"/>
<rect x="219.76" y="246" width="153" height="6" fill="url(#gh1)"/>
<rect x="219.76" y="246" width="153" height="6" fill="url(#gh2)" mask="url(#mfade)"/>
<rect x="219.76" y="252" width="153" height="8" fill="url(#gh2)"/>
<rect x="219.76" y="252" width="153" height="8" fill="url(#gh3)" mask="url(#mfade)"/>
<rect x="219.76" y="260" width="153" height="10" fill="url(#gh3)"/>
<rect x="219.76" y="260" width="153" height="10" fill="url(#gh4)" mask="url(#mfade)"/>
<rect x="219.76" y="270" width="153" height="21" fill="url(#gh4)"/>
<rect x="219.76" y="270" width="153" height="21" fill="url(#gh5)" mask="url(#mfade)"/>
<rect x="219.76" y="291" width="153" height="20" fill="url(#gh5)"/>
<rect x="219.76" y="291" width="153" height="20" fill="url(#gh6)" mask="url(#mfade)"/>
<rect x="219.76" y="311" width="153" height="20" fill="url(#gh6)"/>
<rect x="219.76" y="311" width="153" height="20" fill="url(#gh7)" mask="url(#mfade)"/>
<rect x="219.76" y="331" width="153" height="21" fill="url(#gh7)"/>
<rect x="219.76" y="331" width="153" height="21" fill="url(#gh8)" mask="url(#mfade)"/>
<rect x="219.76" y="352" width="153" height="20" fill="url(#gh8)"/>
<rect x="219.76" y="352" width="153" height="20" fill="url(#gh9)" mask="url(#mfade)"/>
<rect x="219.76" y="372" width="153" height="20" fill="url(#gh9)"/>
<rect x="219.76" y="372" width="153" height="20" fill="url(#gh10)" mask="url(#mfade)"/>
<rect x="219.76" y="392" width="153" height="20" fill="url(#gh10)"/>
<rect x="219.76" y="392" width="153" height="20" fill="url(#gh11)" mask="url(#mfade)"/>
<rect x="219.76" y="412" width="153" height="21" fill="url(#gh11)"/>
<rect x="219.76" y="412" width="153" height="21" fill="url(#gh12)" mask="url(#mfade)"/>
<rect x="219.76" y="433" width="153" height="30" fill="url(#gh12)"/>
<rect x="219.76" y="433" width="153" height="30" fill="url(#gh13)" mask="url(#mfade)"/>
<rect x="219.76" y="463" width="153" height="31" fill="url(#gh13)"/>
<rect x="219.76" y="463" width="153" height="31" fill="url(#gh14)" mask="url(#mfade)"/>
<rect x="219.76" y="494" width="153" height="50" fill="url(#gh14)"/>
<rect x="219.76" y="494" width="153" height="50" fill="url(#gh15)" mask="url(#mfade)"/>
<rect x="219.76" y="544" width="153" height="51" fill="url(#gh15)"/>
<rect x="219.76" y="544" width="153" height="51" fill="url(#gh16)" mask="url(#mfade)"/>
<rect x="219.76" y="595" width="153" height="76" fill="url(#gh16)"/>
<rect x="219.76" y="595" width="153" height="76" fill="url(#gh17)" mask="url(#mfade)"/>
<rect x="219.76" y="671" width="153" height="76" fill="url(#gh17)"/>
<rect x="219.76" y="671" width="153" height="76" fill="url(#gh18)" mask="url(#mfade)"/>
<rect x="219.76" y="747" width="153" height="76" fill="url(#gh18)"/>
<rect x="219.76" y="747" width="153" height="76" fill="url(#gh19)" mask="url(#mfade)"/>
<rect x="219.76" y="823" width="153" height="76" fill="url(#gh19)"/>
<rect x="219.76" y="823" width="153" height="76" fill="url(#gh20)" mask="url(#mfade)"/>
<rect x="219.76" y="899" width="153" height="51" fill="url(#gh20)"/>
<rect x="219.76" y="899" width="153" height="51" fill="url(#gh21)" mask="url(#mfade)"/>
<rect x="219.76" y="950" width="153" height="51" fill="url(#gh21)"/>
<rect x="219.76" y="950" width="153" height="51" fill="url(#gh22)" mask="url(#mfade)"/>
<rect x="219.76" y="1001" width="153" height="30" fill="url(#gh22)"/>
<rect x="219.76" y="1001" width="153" height="30" fill="url(#gh23)" mask="url(#mfade)"/>
<rect x="219.76" y="1031" width="153" height="31" fill="url(#gh23)"/>
<rect x="219.76" y="1031" width="153" height="31" fill="url(#gh24)" mask="url(#mfade)"/>
<rect x="219.76" y="1062" width="153" height="30" fill="url(#gh24)"/>
<rect x="219.76" y="1062" width="153" height="30" fill="url(#gh25)" mask="url(#mfade)"/>
<rect x="219.76" y="1092" width="153" height="31" fill="url(#gh25)"/>
<rect x="219.76" y="1092" width="153" height="31" fill="url(#gh26)" mask="url(#mfade)"/>
<rect x="219.76" y="1123" width="153" height="25" fill="url(#gh26)"/>
<rect x="219.76" y="1123" width="153" height="25" fill="url(#gh27)" mask="url(#mfade)"/>
<rect x="219.76" y="1148" width="153" height="25" fill="url(#gh27)"/>
<rect x="219.76" y="1148" width="153" height="25" fill="url(#gh28)" mask="url(#mfade)"/>
<rect x="219.76" y="1173" width="153" height="16" fill="url(#gh28)"/>
<rect x="219.76" y="1173" width="153" height="16" fill="url(#gh29)" mask="url(#mfade)"/>
<rect x="219.76" y="1189" width="153" height="15" fill="url(#gh29)"/>
<rect x="219.76" y="1189" width="153" height="15" fill="url(#gh30)" mask="url(#mfade)"/>
<rect x="219.76" y="1204" width="153" height="13" fill="url(#gh30)"/>
<rect x="219.76" y="1204" width="153" height="13" fill="url(#gh31)" mask="url(#mfade)"/>
<rect x="219.76" y="1217" width="153" height="12" fill="url(#gh31)"/>
<rect x="219.76" y="1217" width="153" height="12" fill="url(#gh32)" mask="url(#mfade)"/>
<rect x="219.76" y="1229" width="153" height="27" fill="url(#gh32)"/>
<rect x="219.76" y="1229" width="153" height="27" fill="url(#gh33)" mask="url(#mfade)"/>
</g>
<rect x="219.11" y="238.65" width="153.95" height="1017.45" fill="none" stroke="#000" stroke-width="2.8"/>
<line x1="219.16" y1="1257.3" x2="219.16" y2="1261.1" stroke="#000" stroke-width="2.8"/>
<line x1="296.11" y1="1257.3" x2="296.11" y2="1261.1" stroke="#000" stroke-width="2.8"/>
<line x1="373.06" y1="1257.3" x2="373.06" y2="1261.1" stroke="#000" stroke-width="2.8"/>
<g filter="url(#cm2)">
<rect x="386.52" y="239" width="153" height="1016.6" fill="url(#gh0)"/>
<rect x="386.52" y="240" width="153" height="6" fill="url(#gh0)"/>
<rect x="386.52" y="240" width="153" height="6" fill="url(#gh1)" mask="url(#mfade)"/>
<rect x="386.52" y="246" width="153" height="6" fill="url(#gh1)"/>
<rect x="386.52" y="246" width="153" height="6" fill="url(#gh2)" mask="url(#mfade)"/>
<rect x="386.52" y="252" width="153" height="8" fill="url(#gh2)"/>
<rect x="386.52" y="252" width="153" height="8" fill="url(#gh3)" mask="url(#mfade)"/>
<rect x="386.52" y="260" width="153" height="10" fill="url(#gh3)"/>
<rect x="386.52" y="260" width="153" height="10" fill="url(#gh4)" mask="url(#mfade)"/>
<rect x="386.52" y="270" width="153" height="21" fill="url(#gh4)"/>
<rect x="386.52" y="270" width="153" height="21" fill="url(#gh5)" mask="url(#mfade)"/>
<rect x="386.52" y="291" width="153" height="20" fill="url(#gh5)"/>
<rect x="386.52" y="291" width="153" height="20" fill="url(#gh6)" mask="url(#mfade)"/>
<rect x="386.52" y="311" width="153" height="20" fill="url(#gh6)"/>
<rect x="386.52" y="311" width="153" height="20" fill="url(#gh7)" mask="url(#mfade)"/>
<rect x="386.52" y="331" width="153" height="21" fill="url(#gh7)"/>
<rect x="386.52" y="331" width="153" height="21" fill="url(#gh8)" mask="url(#mfade)"/>
<rect x="386.52" y="352" width="153" height="20" fill="url(#gh8)"/>
<rect x="386.52" y="352" width="153" height="20" fill="url(#gh9)" mask="url(#mfade)"/>
<rect x="386.52" y="372" width="153" height="20" fill="url(#gh9)"/>
<rect x="386.52" y="372" width="153" height="20" fill="url(#gh10)" mask="url(#mfade)"/>
<rect x="386.52" y="392" width="153" height="20" fill="url(#gh10)"/>
<rect x="386.52" y="392" width="153" height="20" fill="url(#gh11)" mask="url(#mfade)"/>
<rect x="386.52" y="412" width="153" height="21" fill="url(#gh11)"/>
<rect x="386.52" y="412" width="153" height="21" fill="url(#gh12)" mask="url(#mfade)"/>
<rect x="386.52" y="433" width="153" height="30" fill="url(#gh12)"/>
<rect x="386.52" y="433" width="153" height="30" fill="url(#gh13)" mask="url(#mfade)"/>
<rect x="386.52" y="463" width="153" height="31" fill="url(#gh13)"/>
<rect x="386.52" y="463" width="153" height="31" fill="url(#gh14)" mask="url(#mfade)"/>
<rect x="386.52" y="494" width="153" height="50" fill="url(#gh14)"/>
<rect x="386.52" y="494" width="153" height="50" fill="url(#gh15)" mask="url(#mfade)"/>
<rect x="386.52" y="544" width="153" height="51" fill="url(#gh15)"/>
<rect x="386.52" y="544" width="153" height="51" fill="url(#gh16)" mask="url(#mfade)"/>
<rect x="386.52" y="595" width="153" height="76" fill="url(#gh16)"/>
<rect x="386.52" y="595" width="153" height="76" fill="url(#gh17)" mask="url(#mfade)"/>
<rect x="386.52" y="671" width="153" height="76" fill="url(#gh17)"/>
<rect x="386.52" y="671" width="153" height="76" fill="url(#gh18)" mask="url(#mfade)"/>
<rect x="386.52" y="747" width="153" height="76" fill="url(#gh18)"/>
<rect x="386.52" y="747" width="153" height="76" fill="url(#gh19)" mask="url(#mfade)"/>
<rect x="386.52" y="823" width="153" height="76" fill="url(#gh19)"/>
<rect x="386.52" y="823" width="153" height="76" fill="url(#gh20)" mask="url(#mfade)"/>
<rect x="386.52" y="899" width="153" height="51" fill="url(#gh20)"/>
<rect x="386.52" y="899" width="153" height="51" fill="url(#gh21)" mask="url(#mfade)"/>
<rect x="386.52" y="950" width="153" height="51" fill="url(#gh21)"/>
<rect x="386.52" y="950" width="153" height="51" fill="url(#gh22)" mask="url(#mfade)"/>
<rect x="386.52" y="1001" width="153" height="30" fill="url(#gh22)"/>
<rect x="386.52" y="1001" width="153" height="30" fill="url(#gh23)" mask="url(#mfade)"/>
<rect x="386.52" y="1031" width="153" height="31" fill="url(#gh23)"/>
<rect x="386.52" y="1031" width="153" height="31" fill="url(#gh24)" mask="url(#mfade)"/>
<rect x="386.52" y="1062" width="153" height="30" fill="url(#gh24)"/>
<rect x="386.52" y="1062" width="153" height="30" fill="url(#gh25)" mask="url(#mfade)"/>
<rect x="386.52" y="1092" width="153" height="31" fill="url(#gh25)"/>
<rect x="386.52" y="1092" width="153" height="31" fill="url(#gh26)" mask="url(#mfade)"/>
<rect x="386.52" y="1123" width="153" height="25" fill="url(#gh26)"/>
<rect x="386.52" y="1123" width="153" height="25" fill="url(#gh27)" mask="url(#mfade)"/>
<rect x="386.52" y="1148" width="153" height="25" fill="url(#gh27)"/>
<rect x="386.52" y="1148" width="153" height="25" fill="url(#gh28)" mask="url(#mfade)"/>
<rect x="386.52" y="1173" width="153" height="16" fill="url(#gh28)"/>
<rect x="386.52" y="1173" width="153" height="16" fill="url(#gh29)" mask="url(#mfade)"/>
<rect x="386.52" y="1189" width="153" height="15" fill="url(#gh29)"/>
<rect x="386.52" y="1189" width="153" height="15" fill="url(#gh30)" mask="url(#mfade)"/>
<rect x="386.52" y="1204" width="153" height="13" fill="url(#gh30)"/>
<rect x="386.52" y="1204" width="153" height="13" fill="url(#gh31)" mask="url(#mfade)"/>
<rect x="386.52" y="1217" width="153" height="12" fill="url(#gh31)"/>
<rect x="386.52" y="1217" width="153" height="12" fill="url(#gh32)" mask="url(#mfade)"/>
<rect x="386.52" y="1229" width="153" height="27" fill="url(#gh32)"/>
<rect x="386.52" y="1229" width="153" height="27" fill="url(#gh33)" mask="url(#mfade)"/>
</g>
<rect x="385.87" y="238.65" width="153.95" height="1017.45" fill="none" stroke="#000" stroke-width="2.8"/>
<line x1="385.92" y1="1257.3" x2="385.92" y2="1261.1" stroke="#000" stroke-width="2.8"/>
<line x1="462.87" y1="1257.3" x2="462.87" y2="1261.1" stroke="#000" stroke-width="2.8"/>
<line x1="539.82" y1="1257.3" x2="539.82" y2="1261.1" stroke="#000" stroke-width="2.8"/>
<g filter="url(#cm3)">
<rect x="553.28" y="239" width="153" height="1016.6" fill="url(#go0)"/>
<rect x="553.28" y="240" width="153" height="6" fill="url(#go0)"/>
<rect x="553.28" y="240" width="153" height="6" fill="url(#go1)" mask="url(#mfade)"/>
<rect x="553.28" y="246" width="153" height="6" fill="url(#go1)"/>
<rect x="553.28" y="246" width="153" height="6" fill="url(#go2)" mask="url(#mfade)"/>
<rect x="553.28" y="252" width="153" height="8" fill="url(#go2)"/>
<rect x="553.28" y="252" width="153" height="8" fill="url(#go3)" mask="url(#mfade)"/>
<rect x="553.28" y="260" width="153" height="10" fill="url(#go3)"/>
<rect x="553.28" y="260" width="153" height="10" fill="url(#go4)" mask="url(#mfade)"/>
<rect x="553.28" y="270" width="153" height="21" fill="url(#go4)"/>
<rect x="553.28" y="270" width="153" height="21" fill="url(#go5)" mask="url(#mfade)"/>
<rect x="553.28" y="291" width="153" height="20" fill="url(#go5)"/>
<rect x="553.28" y="291" width="153" height="20" fill="url(#go6)" mask="url(#mfade)"/>
<rect x="553.28" y="311" width="153" height="20" fill="url(#go6)"/>
<rect x="553.28" y="311" width="153" height="20" fill="url(#go7)" mask="url(#mfade)"/>
<rect x="553.28" y="331" width="153" height="21" fill="url(#go7)"/>
<rect x="553.28" y="331" width="153" height="21" fill="url(#go8)" mask="url(#mfade)"/>
<rect x="553.28" y="352" width="153" height="20" fill="url(#go8)"/>
<rect x="553.28" y="352" width="153" height="20" fill="url(#go9)" mask="url(#mfade)"/>
<rect x="553.28" y="372" width="153" height="20" fill="url(#go9)"/>
<rect x="553.28" y="372" width="153" height="20" fill="url(#go10)" mask="url(#mfade)"/>
<rect x="553.28" y="392" width="153" height="20" fill="url(#go10)"/>
<rect x="553.28" y="392" width="153" height="20" fill="url(#go11)" mask="url(#mfade)"/>
<rect x="553.28" y="412" width="153" height="21" fill="url(#go11)"/>
<rect x="553.28" y="412" width="153" height="21" fill="url(#go12)" mask="url(#mfade)"/>
<rect x="553.28" y="433" width="153" height="30" fill="url(#go12)"/>
<rect x="553.28" y="433" width="153" height="30" fill="url(#go13)" mask="url(#mfade)"/>
<rect x="553.28" y="463" width="153" height="31" fill="url(#go13)"/>
<rect x="553.28" y="463" width="153" height="31" fill="url(#go14)" mask="url(#mfade)"/>
<rect x="553.28" y="494" width="153" height="50" fill="url(#go14)"/>
<rect x="553.28" y="494" width="153" height="50" fill="url(#go15)" mask="url(#mfade)"/>
<rect x="553.28" y="544" width="153" height="51" fill="url(#go15)"/>
<rect x="553.28" y="544" width="153" height="51" fill="url(#go16)" mask="url(#mfade)"/>
<rect x="553.28" y="595" width="153" height="76" fill="url(#go16)"/>
<rect x="553.28" y="595" width="153" height="76" fill="url(#go17)" mask="url(#mfade)"/>
<rect x="553.28" y="671" width="153" height="76" fill="url(#go17)"/>
<rect x="553.28" y="671" width="153" height="76" fill="url(#go18)" mask="url(#mfade)"/>
<rect x="553.28" y="747" width="153" height="76" fill="url(#go18)"/>
<rect x="553.28" y="747" width="153" height="76" fill="url(#go19)" mask="url(#mfade)"/>
<rect x="553.28" y="823" width="153" height="76" fill="url(#go19)"/>
<rect x="553.28" y="823" width="153" height="76" fill="url(#go20)" mask="url(#mfade)"/>
<rect x="553.28" y="899" width="153" height="51" fill="url(#go20)"/>
<rect x="553.28" y="899" width="153" height="51" fill="url(#go21)" mask="url(#mfade)"/>
<rect x="553.28" y="950" width="153" height="51" fill="url(#go21)"/>
<rect x="553.28" y="950" width="153" height="51" fill="url(#go22)" mask="url(#mfade)"/>
<rect x="553.28" y="1001" width="153" height="30" fill="url(#go22)"/>
<rect x="553.28" y="1001" width="153" height="30" fill="url(#go23)" mask="url(#mfade)"/>
<rect x="553.28" y="1031" width="153" height="31" fill="url(#go23)"/>
<rect x="553.28" y="1031" width="153" height="31" fill="url(#go24)" mask="url(#mfade)"/>
<rect x="553.28" y="1062" width="153" height="30" fill="url(#go24)"/>
<rect x="553.28" y="1062" width="153" height="30" fill="url(#go25)" mask="url(#mfade)"/>
<rect x="553.28" y="1092" width="153" height="31" fill="url(#go25)"/>
<rect x="553.28" y="1092" width="153" height="31" fill="url(#go26)" mask="url(#mfade)"/>
<rect x="553.28" y="1123" width="153" height="25" fill="url(#go26)"/>
<rect x="553.28" y="1123" width="153" height="25" fill="url(#go27)" mask="url(#mfade)"/>
<rect x="553.28" y="1148" width="153" height="25" fill="url(#go27)"/>
<rect x="553.28" y="1148" width="153" height="25" fill="url(#go28)" mask="url(#mfade)"/>
<rect x="553.28" y="1173" width="153" height="16" fill="url(#go28)"/>
<rect x="553.28" y="1173" width="153" height="16" fill="url(#go29)" mask="url(#mfade)"/>
<rect x="553.28" y="1189" width="153" height="15" fill="url(#go29)"/>
<rect x="553.28" y="1189" width="153" height="15" fill="url(#go30)" mask="url(#mfade)"/>
<rect x="553.28" y="1204" width="153" height="13" fill="url(#go30)"/>
<rect x="553.28" y="1204" width="153" height="13" fill="url(#go31)" mask="url(#mfade)"/>
<rect x="553.28" y="1217" width="153" height="12" fill="url(#go31)"/>
<rect x="553.28" y="1217" width="153" height="12" fill="url(#go32)" mask="url(#mfade)"/>
<rect x="553.28" y="1229" width="153" height="27" fill="url(#go32)"/>
<rect x="553.28" y="1229" width="153" height="27" fill="url(#go33)" mask="url(#mfade)"/>
</g>
<rect x="552.63" y="238.65" width="153.95" height="1017.45" fill="none" stroke="#000" stroke-width="2.8"/>
<line x1="552.68" y1="1257.3" x2="552.68" y2="1261.1" stroke="#000" stroke-width="2.8"/>
<line x1="629.63" y1="1257.3" x2="629.63" y2="1261.1" stroke="#000" stroke-width="2.8"/>
<line x1="706.58" y1="1257.3" x2="706.58" y2="1261.1" stroke="#000" stroke-width="2.8"/>
<g filter="url(#cm4)">
<rect x="720.04" y="239" width="153" height="1016.6" fill="url(#go0)"/>
<rect x="720.04" y="240" width="153" height="6" fill="url(#go0)"/>
<rect x="720.04" y="240" width="153" height="6" fill="url(#go1)" mask="url(#mfade)"/>
<rect x="720.04" y="246" width="153" height="6" fill="url(#go1)"/>
<rect x="720.04" y="246" width="153" height="6" fill="url(#go2)" mask="url(#mfade)"/>
<rect x="720.04" y="252" width="153" height="8" fill="url(#go2)"/>
<rect x="720.04" y="252" width="153" height="8" fill="url(#go3)" mask="url(#mfade)"/>
<rect x="720.04" y="260" width="153" height="10" fill="url(#go3)"/>
<rect x="720.04" y="260" width="153" height="10" fill="url(#go4)" mask="url(#mfade)"/>
<rect x="720.04" y="270" width="153" height="21" fill="url(#go4)"/>
<rect x="720.04" y="270" width="153" height="21" fill="url(#go5)" mask="url(#mfade)"/>
<rect x="720.04" y="291" width="153" height="20" fill="url(#go5)"/>
<rect x="720.04" y="291" width="153" height="20" fill="url(#go6)" mask="url(#mfade)"/>
<rect x="720.04" y="311" width="153" height="20" fill="url(#go6)"/>
<rect x="720.04" y="311" width="153" height="20" fill="url(#go7)" mask="url(#mfade)"/>
<rect x="720.04" y="331" width="153" height="21" fill="url(#go7)"/>
<rect x="720.04" y="331" width="153" height="21" fill="url(#go8)" mask="url(#mfade)"/>
<rect x="720.04" y="352" width="153" height="20" fill="url(#go8)"/>
<rect x="720.04" y="352" width="153" height="20" fill="url(#go9)" mask="url(#mfade)"/>
<rect x="720.04" y="372" width="153" height="20" fill="url(#go9)"/>
<rect x="720.04" y="372" width="153" height="20" fill="url(#go10)" mask="url(#mfade)"/>
<rect x="720.04" y="392" width="153" height="20" fill="url(#go10)"/>
<rect x="720.04" y="392" width="153" height="20" fill="url(#go11)" mask="url(#mfade)"/>
<rect x="720.04" y="412" width="153" height="21" fill="url(#go11)"/>
<rect x="720.04" y="412" width="153" height="21" fill="url(#go12)" mask="url(#mfade)"/>
<rect x="720.04" y="433" width="153" height="30" fill="url(#go12)"/>
<rect x="720.04" y="433" width="153" height="30" fill="url(#go13)" mask="url(#mfade)"/>
<rect x="720.04" y="463" width="153" height="31" fill="url(#go13)"/>
<rect x="720.04" y="463" width="153" height="31" fill="url(#go14)" mask="url(#mfade)"/>
<rect x="720.04" y="494" width="153" height="50" fill="url(#go14)"/>
<rect x="720.04" y="494" width="153" height="50" fill="url(#go15)" mask="url(#mfade)"/>
<rect x="720.04" y="544" width="153" height="51" fill="url(#go15)"/>
<rect x="720.04" y="544" width="153" height="51" fill="url(#go16)" mask="url(#mfade)"/>
<rect x="720.04" y="595" width="153" height="76" fill="url(#go16)"/>
<rect x="720.04" y="595" width="153" height="76" fill="url(#go17)" mask="url(#mfade)"/>
<rect x="720.04" y="671" width="153" height="76" fill="url(#go17)"/>
<rect x="720.04" y="671" width="153" height="76" fill="url(#go18)" mask="url(#mfade)"/>
<rect x="720.04" y="747" width="153" height="76" fill="url(#go18)"/>
<rect x="720.04" y="747" width="153" height="76" fill="url(#go19)" mask="url(#mfade)"/>
<rect x="720.04" y="823" width="153" height="76" fill="url(#go19)"/>
<rect x="720.04" y="823" width="153" height="76" fill="url(#go20)" mask="url(#mfade)"/>
<rect x="720.04" y="899" width="153" height="51" fill="url(#go20)"/>
<rect x="720.04" y="899" width="153" height="51" fill="url(#go21)" mask="url(#mfade)"/>
<rect x="720.04" y="950" width="153" height="51" fill="url(#go21)"/>
<rect x="720.04" y="950" width="153" height="51" fill="url(#go22)" mask="url(#mfade)"/>
<rect x="720.04" y="1001" width="153" height="30" fill="url(#go22)"/>
<rect x="720.04" y="1001" width="153" height="30" fill="url(#go23)" mask="url(#mfade)"/>
<rect x="720.04" y="1031" width="153" height="31" fill="url(#go23)"/>
<rect x="720.04" y="1031" width="153" height="31" fill="url(#go24)" mask="url(#mfade)"/>
<rect x="720.04" y="1062" width="153" height="30" fill="url(#go24)"/>
<rect x="720.04" y="1062" width="153" height="30" fill="url(#go25)" mask="url(#mfade)"/>
<rect x="720.04" y="1092" width="153" height="31" fill="url(#go25)"/>
<rect x="720.04" y="1092" width="153" height="31" fill="url(#go26)" mask="url(#mfade)"/>
<rect x="720.04" y="1123" width="153" height="25" fill="url(#go26)"/>
<rect x="720.04" y="1123" width="153" height="25" fill="url(#go27)" mask="url(#mfade)"/>
<rect x="720.04" y="1148" width="153" height="25" fill="url(#go27)"/>
<rect x="720.04" y="1148" width="153" height="25" fill="url(#go28)" mask="url(#mfade)"/>
<rect x="720.04" y="1173" width="153" height="16" fill="url(#go28)"/>
<rect x="720.04" y="1173" width="153" height="16" fill="url(#go29)" mask="url(#mfade)"/>
<rect x="720.04" y="1189" width="153" height="15" fill="url(#go29)"/>
<rect x="720.04" y="1189" width="153" height="15" fill="url(#go30)" mask="url(#mfade)"/>
<rect x="720.04" y="1204" width="153" height="13" fill="url(#go30)"/>
<rect x="720.04" y="1204" width="153" height="13" fill="url(#go31)" mask="url(#mfade)"/>
<rect x="720.04" y="1217" width="153" height="12" fill="url(#go31)"/>
<rect x="720.04" y="1217" width="153" height="12" fill="url(#go32)" mask="url(#mfade)"/>
<rect x="720.04" y="1229" width="153" height="27" fill="url(#go32)"/>
<rect x="720.04" y="1229" width="153" height="27" fill="url(#go33)" mask="url(#mfade)"/>
</g>
<rect x="719.39" y="238.65" width="153.95" height="1017.45" fill="none" stroke="#000" stroke-width="2.8"/>
<line x1="719.44" y1="1257.3" x2="719.44" y2="1261.1" stroke="#000" stroke-width="2.8"/>
<line x1="796.39" y1="1257.3" x2="796.39" y2="1261.1" stroke="#000" stroke-width="2.8"/>
<line x1="873.34" y1="1257.3" x2="873.34" y2="1261.1" stroke="#000" stroke-width="2.8"/>
<g filter="url(#cm5)">
<rect x="886.8" y="239" width="153" height="1016.6" fill="url(#go0)"/>
<rect x="886.8" y="240" width="153" height="6" fill="url(#go0)"/>
<rect x="886.8" y="240" width="153" height="6" fill="url(#go1)" mask="url(#mfade)"/>
<rect x="886.8" y="246" width="153" height="6" fill="url(#go1)"/>
<rect x="886.8" y="246" width="153" height="6" fill="url(#go2)" mask="url(#mfade)"/>
<rect x="886.8" y="252" width="153" height="8" fill="url(#go2)"/>
<rect x="886.8" y="252" width="153" height="8" fill="url(#go3)" mask="url(#mfade)"/>
<rect x="886.8" y="260" width="153" height="10" fill="url(#go3)"/>
<rect x="886.8" y="260" width="153" height="10" fill="url(#go4)" mask="url(#mfade)"/>
<rect x="886.8" y="270" width="153" height="21" fill="url(#go4)"/>
<rect x="886.8" y="270" width="153" height="21" fill="url(#go5)" mask="url(#mfade)"/>
<rect x="886.8" y="291" width="153" height="20" fill="url(#go5)"/>
<rect x="886.8" y="291" width="153" height="20" fill="url(#go6)" mask="url(#mfade)"/>
<rect x="886.8" y="311" width="153" height="20" fill="url(#go6)"/>
<rect x="886.8" y="311" width="153" height="20" fill="url(#go7)" mask="url(#mfade)"/>
<rect x="886.8" y="331" width="153" height="21" fill="url(#go7)"/>
<rect x="886.8" y="331" width="153" height="21" fill="url(#go8)" mask="url(#mfade)"/>
<rect x="886.8" y="352" width="153" height="20" fill="url(#go8)"/>
<rect x="886.8" y="352" width="153" height="20" fill="url(#go9)" mask="url(#mfade)"/>
<rect x="886.8" y="372" width="153" height="20" fill="url(#go9)"/>
<rect x="886.8" y="372" width="153" height="20" fill="url(#go10)" mask="url(#mfade)"/>
<rect x="886.8" y="392" width="153" height="20" fill="url(#go10)"/>
<rect x="886.8" y="392" width="153" height="20" fill="url(#go11)" mask="url(#mfade)"/>
<rect x="886.8" y="412" width="153" height="21" fill="url(#go11)"/>
<rect x="886.8" y="412" width="153" height="21" fill="url(#go12)" mask="url(#mfade)"/>
<rect x="886.8" y="433" width="153" height="30" fill="url(#go12)"/>
<rect x="886.8" y="433" width="153" height="30" fill="url(#go13)" mask="url(#mfade)"/>
<rect x="886.8" y="463" width="153" height="31" fill="url(#go13)"/>
<rect x="886.8" y="463" width="153" height="31" fill="url(#go14)" mask="url(#mfade)"/>
<rect x="886.8" y="494" width="153" height="50" fill="url(#go14)"/>
<rect x="886.8" y="494" width="153" height="50" fill="url(#go15)" mask="url(#mfade)"/>
<rect x="886.8" y="544" width="153" height="51" fill="url(#go15)"/>
<rect x="886.8" y="544" width="153" height="51" fill="url(#go16)" mask="url(#mfade)"/>
<rect x="886.8" y="595" width="153" height="76" fill="url(#go16)"/>
<rect x="886.8" y="595" width="153" height="76" fill="url(#go17)" mask="url(#mfade)"/>
<rect x="886.8" y="671" width="153" height="76" fill="url(#go17)"/>
<rect x="886.8" y="671" width="153" height="76" fill="url(#go18)" mask="url(#mfade)"/>
<rect x="886.8" y="747" width="153" height="76" fill="url(#go18)"/>
<rect x="886.8" y="747" width="153" height="76" fill="url(#go19)" mask="url(#mfade)"/>
<rect x="886.8" y="823" width="153" height="76" fill="url(#go19)"/>
<rect x="886.8" y="823" width="153" height="76" fill="url(#go20)" mask="url(#mfade)"/>
<rect x="886.8" y="899" width="153" height="51" fill="url(#go20)"/>
<rect x="886.8" y="899" width="153" height="51" fill="url(#go21)" mask="url(#mfade)"/>
<rect x="886.8" y="950" width="153" height="51" fill="url(#go21)"/>
<rect x="886.8" y="950" width="153" height="51" fill="url(#go22)" mask="url(#mfade)"/>
<rect x="886.8" y="1001" width="153" height="30" fill="url(#go22)"/>
<rect x="886.8" y="1001" width="153" height="30" fill="url(#go23)" mask="url(#mfade)"/>
<rect x="886.8" y="1031" width="153" height="31" fill="url(#go23)"/>
<rect x="886.8" y="1031" width="153" height="31" fill="url(#go24)" mask="url(#mfade)"/>
<rect x="886.8" y="1062" width="153" height="30" fill="url(#go24)"/>
<rect x="886.8" y="1062" width="153" height="30" fill="url(#go25)" mask="url(#mfade)"/>
<rect x="886.8" y="1092" width="153" height="31" fill="url(#go25)"/>
<rect x="886.8" y="1092" width="153" height="31" fill="url(#go26)" mask="url(#mfade)"/>
<rect x="886.8" y="1123" width="153" height="25" fill="url(#go26)"/>
<rect x="886.8" y="1123" width="153" height="25" fill="url(#go27)" mask="url(#mfade)"/>
<rect x="886.8" y="1148" width="153" height="25" fill="url(#go27)"/>
<rect x="886.8" y="1148" width="153" height="25" fill="url(#go28)" mask="url(#mfade)"/>
<rect x="886.8" y="1173" width="153" height="16" fill="url(#go28)"/>
<rect x="886.8" y="1173" width="153" height="16" fill="url(#go29)" mask="url(#mfade)"/>
<rect x="886.8" y="1189" width="153" height="15" fill="url(#go29)"/>
<rect x="886.8" y="1189" width="153" height="15" fill="url(#go30)" mask="url(#mfade)"/>
<rect x="886.8" y="1204" width="153" height="13" fill="url(#go30)"/>
<rect x="886.8" y="1204" width="153" height="13" fill="url(#go31)" mask="url(#mfade)"/>
<rect x="886.8" y="1217" width="153" height="12" fill="url(#go31)"/>
<rect x="886.8" y="1217" width="153" height="12" fill="url(#go32)" mask="url(#mfade)"/>
<rect x="886.8" y="1229" width="153" height="27" fill="url(#go32)"/>
<rect x="886.8" y="1229" width="153" height="27" fill="url(#go33)" mask="url(#mfade)"/>
</g>
<rect x="886.15" y="238.65" width="153.95" height="1017.45" fill="none" stroke="#000" stroke-width="2.8"/>
<line x1="886.2" y1="1257.3" x2="886.2" y2="1261.1" stroke="#000" stroke-width="2.8"/>
<line x1="963.15" y1="1257.3" x2="963.15" y2="1261.1" stroke="#000" stroke-width="2.8"/>
<line x1="1040.1" y1="1257.3" x2="1040.1" y2="1261.1" stroke="#000" stroke-width="2.8"/>
<rect x="1054.8" y="239.6" width="11.7" height="1015" fill="url(#cbar)"/>
<rect x="1053.2" y="238.7" width="14.9" height="1017.4" fill="none" stroke="#000" stroke-width="3.2"/>
<line x1="1069.5" y1="1255.5" x2="1074" y2="1255.5" stroke="#000" stroke-width="3"/>
<text transform="translate(1078.97,1260.5) scale(0.9594,1)" font-size="24.23" stroke="#000" stroke-width="0.35">0</text>
<line x1="1069.5" y1="1114.5" x2="1074" y2="1114.5" stroke="#000" stroke-width="3"/>
<text transform="translate(1078.68,1119.5) scale(1.0069,1)" font-size="24.23" stroke="#000" stroke-width="0.35">2</text>
<line x1="1069.5" y1="973.5" x2="1074" y2="973.5" stroke="#000" stroke-width="3"/>
<text transform="translate(1079.41,978.5) scale(0.9072,1)" font-size="24.23" stroke="#000" stroke-width="0.35">4</text>
<line x1="1069.5" y1="832.5" x2="1074" y2="832.5" stroke="#000" stroke-width="3"/>
<text transform="translate(1078.7,837.5) scale(0.9905,1)" font-size="24.23" stroke="#000" stroke-width="0.35">6</text>
<line x1="1069.5" y1="691.5" x2="1074" y2="691.5" stroke="#000" stroke-width="3"/>
<text transform="translate(1078.9,696.5) scale(0.9747,1)" font-size="24.23" stroke="#000" stroke-width="0.35">8</text>
<line x1="1069.5" y1="550.5" x2="1074" y2="550.5" stroke="#000" stroke-width="3"/>
<text transform="translate(1079.33,555.5) scale(0.9723,1)" font-size="24.23" stroke="#000" stroke-width="0.35">10</text>
<line x1="1069.5" y1="409.5" x2="1074" y2="409.5" stroke="#000" stroke-width="3"/>
<text transform="translate(1079.31,414.5) scale(0.9847,1)" font-size="24.23" stroke="#000" stroke-width="0.35">12</text>
<line x1="1069.5" y1="268.5" x2="1074" y2="268.5" stroke="#000" stroke-width="3"/>
<text transform="translate(1079.35,273.5) scale(0.9627,1)" font-size="24.23" stroke="#000" stroke-width="0.35">14</text>
</g>
<g id="panelB">
<text transform="translate(1162.45,36.5) scale(0.9929,1)" font-size="30.55" font-weight="700">B</text>
<rect x="1212" y="98.7" width="216.3" height="45.3" fill="#A6CEE3"/>
<rect x="1428" y="98.7" width="89.3" height="45.3" fill="#1F78B4"/>
<rect x="1517" y="98.7" width="71.1" height="45.3" fill="#B2DF8A"/>
<rect x="1587.8" y="98.7" width="1.2" height="45.3" fill="#33A02C"/>
<rect x="1588.7" y="98.7" width="23.4" height="45.3" fill="#FB9A99"/>
<rect x="1611.8" y="98.7" width="29.9" height="45.3" fill="#FDBF6F"/>
<rect x="1641.4" y="98.7" width="3.9" height="45.3" fill="#FF7F00"/>
<rect x="1645" y="98.7" width="14.3" height="45.3" fill="#CAB2D6"/>
<rect x="1659" y="98.7" width="2.3" height="45.3" fill="#6A3D9A"/>
<rect x="1661" y="98.7" width="531" height="45.3" fill="#FFFF99"/>
<text transform="translate(1160.32,135.1) scale(0.8715,1)" font-size="29" fill="#4d4d4d">H1</text>
<rect x="1212" y="149.1" width="213.3" height="45.3" fill="#A6CEE3"/>
<rect x="1425" y="149.1" width="89.4" height="45.3" fill="#1F78B4"/>
<rect x="1514.1" y="149.1" width="70.8" height="45.3" fill="#B2DF8A"/>
<rect x="1584.6" y="149.1" width="0.9" height="45.3" fill="#33A02C"/>
<rect x="1585.2" y="149.1" width="21.1" height="45.3" fill="#FB9A99"/>
<rect x="1606" y="149.1" width="31.3" height="45.3" fill="#FDBF6F"/>
<rect x="1637" y="149.1" width="3.8" height="45.3" fill="#FF7F00"/>
<rect x="1640.5" y="149.1" width="14.9" height="45.3" fill="#CAB2D6"/>
<rect x="1655.1" y="149.1" width="2.2" height="45.3" fill="#6A3D9A"/>
<rect x="1657" y="149.1" width="535" height="45.3" fill="#FFFF99"/>
<text transform="translate(1160.11,185.5) scale(0.9577,1)" font-size="29" fill="#4d4d4d">H2</text>
<rect x="1212" y="199.5" width="215.2" height="45.3" fill="#A6CEE3"/>
<rect x="1426.9" y="199.5" width="88.4" height="45.3" fill="#1F78B4"/>
<rect x="1515" y="199.5" width="71.5" height="45.3" fill="#B2DF8A"/>
<rect x="1586.2" y="199.5" width="1" height="45.3" fill="#33A02C"/>
<rect x="1586.9" y="199.5" width="22.3" height="45.3" fill="#FB9A99"/>
<rect x="1608.9" y="199.5" width="31.4" height="45.3" fill="#FDBF6F"/>
<rect x="1640" y="199.5" width="4.3" height="45.3" fill="#FF7F00"/>
<rect x="1644" y="199.5" width="14.3" height="45.3" fill="#CAB2D6"/>
<rect x="1658" y="199.5" width="2.3" height="45.3" fill="#6A3D9A"/>
<rect x="1660" y="199.5" width="532" height="45.3" fill="#FFFF99"/>
<text transform="translate(1160.1,235.9) scale(0.9604,1)" font-size="29" fill="#4d4d4d">H3</text>
<rect x="1212" y="249.9" width="102.7" height="45.3" fill="#A6CEE3"/>
<rect x="1314.4" y="249.9" width="57.9" height="45.3" fill="#1F78B4"/>
<rect x="1372" y="249.9" width="51.5" height="45.3" fill="#B2DF8A"/>
<rect x="1423.2" y="249.9" width="0.7" height="45.3" fill="#33A02C"/>
<rect x="1423.6" y="249.9" width="2.7" height="45.3" fill="#FB9A99"/>
<rect x="1426" y="249.9" width="1.9" height="45.3" fill="#E31A1C"/>
<rect x="1427.6" y="249.9" width="21.9" height="45.3" fill="#FDBF6F"/>
<rect x="1449.2" y="249.9" width="3.1" height="45.3" fill="#FF7F00"/>
<rect x="1452" y="249.9" width="16.3" height="45.3" fill="#CAB2D6"/>
<rect x="1468" y="249.9" width="0.5" height="45.3" fill="#6A3D9A"/>
<rect x="1468.2" y="249.9" width="723.8" height="45.3" fill="#FFFF99"/>
<text transform="translate(1160.81,286.3) scale(0.861,1)" font-size="29" fill="#4d4d4d">O1</text>
<rect x="1212" y="300.3" width="141.2" height="45.3" fill="#A6CEE3"/>
<rect x="1352.9" y="300.3" width="82" height="45.3" fill="#1F78B4"/>
<rect x="1434.6" y="300.3" width="65.1" height="45.3" fill="#B2DF8A"/>
<rect x="1499.4" y="300.3" width="1.3" height="45.3" fill="#33A02C"/>
<rect x="1500.4" y="300.3" width="5.1" height="45.3" fill="#FB9A99"/>
<rect x="1505.2" y="300.3" width="0.5" height="45.3" fill="#E31A1C"/>
<rect x="1505.4" y="300.3" width="28.9" height="45.3" fill="#FDBF6F"/>
<rect x="1534" y="300.3" width="4.3" height="45.3" fill="#FF7F00"/>
<rect x="1538" y="300.3" width="13.5" height="45.3" fill="#CAB2D6"/>
<rect x="1551.2" y="300.3" width="1.8" height="45.3" fill="#6A3D9A"/>
<rect x="1552.7" y="300.3" width="639.3" height="45.3" fill="#FFFF99"/>
<text transform="translate(1160.69,336.7) scale(0.9493,1)" font-size="29" fill="#4d4d4d">O2</text>
<rect x="1212" y="350.7" width="137.5" height="45.3" fill="#A6CEE3"/>
<rect x="1349.2" y="350.7" width="79.3" height="45.3" fill="#1F78B4"/>
<rect x="1428.2" y="350.7" width="64.3" height="45.3" fill="#B2DF8A"/>
<rect x="1492.2" y="350.7" width="0.6" height="45.3" fill="#33A02C"/>
<rect x="1492.5" y="350.7" width="5.8" height="45.3" fill="#FB9A99"/>
<rect x="1498" y="350.7" width="0.5" height="45.3" fill="#E31A1C"/>
<rect x="1498.2" y="350.7" width="26.3" height="45.3" fill="#FDBF6F"/>
<rect x="1524.2" y="350.7" width="4.3" height="45.3" fill="#FF7F00"/>
<rect x="1528.2" y="350.7" width="13.5" height="45.3" fill="#CAB2D6"/>
<rect x="1541.4" y="350.7" width="1.9" height="45.3" fill="#6A3D9A"/>
<rect x="1543" y="350.7" width="649" height="45.3" fill="#FFFF99"/>
<text transform="translate(1160.69,387.1) scale(0.9519,1)" font-size="29" fill="#4d4d4d">O3</text>
<rect x="1210.25" y="400.4" width="3.7" height="5.1" fill="#333"/>
<text transform="translate(1192.26,428.7) scale(1.0293,1)" font-size="27.67" fill="#4d4d4d">0</text>
<rect x="1455.45" y="400.4" width="3.7" height="5.1" fill="#333"/>
<text transform="translate(1431.98,428.7) scale(1.0275,1)" font-size="27.67" fill="#4d4d4d">25</text>
<rect x="1700.35" y="400.4" width="3.7" height="5.1" fill="#333"/>
<text transform="translate(1677.18,428.7) scale(1.0151,1)" font-size="27.67" fill="#4d4d4d">50</text>
<rect x="1945.15" y="400.4" width="3.7" height="5.1" fill="#333"/>
<text transform="translate(1921.79,428.7) scale(1.0204,1)" font-size="27.67" fill="#4d4d4d">75</text>
<rect x="2190.15" y="400.4" width="3.7" height="5.1" fill="#333"/>
<text transform="translate(2163.38,428.7) scale(0.9715,1)" font-size="27.67" fill="#4d4d4d">100</text>
<text transform="translate(1611.95,461.2) scale(0.9675,1)" font-size="28.22">Percentage(%)</text>
<text transform="translate(2250.03,119.9) scale(1.0164,1)" font-size="22.25">Feature</text>
<rect x="2252.1" y="131.4" width="23.9" height="24.4" fill="#A6CEE3"/>
<text transform="translate(2285.46,148.9) scale(0.985,1)" font-size="22.69">Promoter (&lt;=1kb)</text>
<rect x="2252.1" y="157.58" width="23.9" height="24.4" fill="#1F78B4"/>
<text transform="translate(2285.46,175) scale(0.985,1)" font-size="22.69">Promoter (1−2kb)</text>
<rect x="2252.1" y="183.76" width="23.9" height="24.4" fill="#B2DF8A"/>
<text transform="translate(2285.46,201.1) scale(0.985,1)" font-size="22.69">Promoter (2−3kb)</text>
<rect x="2252.1" y="209.94" width="23.9" height="24.4" fill="#33A02C"/>
<text transform="translate(2286.41,227.2) scale(0.985,1)" font-size="22.69">5' UTR</text>
<rect x="2252.1" y="236.12" width="23.9" height="24.4" fill="#FB9A99"/>
<text transform="translate(2286.46,253.3) scale(0.985,1)" font-size="22.69">3' UTR</text>
<rect x="2252.1" y="262.3" width="23.9" height="24.4" fill="#E31A1C"/>
<text transform="translate(2285.62,279.4) scale(0.985,1)" font-size="22.69">1st Exon</text>
<rect x="2252.1" y="288.48" width="23.9" height="24.4" fill="#FDBF6F"/>
<text transform="translate(2286.24,305.5) scale(0.985,1)" font-size="22.69">Other Exon</text>
<rect x="2252.1" y="314.66" width="23.9" height="24.4" fill="#FF7F00"/>
<text transform="translate(2285.62,331.6) scale(0.985,1)" font-size="22.69">1st Intron</text>
<rect x="2252.1" y="340.84" width="23.9" height="24.4" fill="#CAB2D6"/>
<text transform="translate(2286.24,357.7) scale(0.985,1)" font-size="22.69">Other Intron</text>
<rect x="2252.1" y="367.02" width="23.9" height="24.4" fill="#6A3D9A"/>
<text transform="translate(2285.46,383.8) scale(0.985,1)" font-size="22.69">Downstream (&lt;=300)</text>
<rect x="2252.1" y="393.2" width="23.9" height="24.4" fill="#FFFF99"/>
<text transform="translate(2285.46,409.9) scale(0.985,1)" font-size="22.69">Distal Intergenic</text>
</g>
<g id="panelC">
<text transform="translate(1164.35,511) scale(0.9673,1)" font-size="29.67" font-weight="700">C</text>
<rect x="1650.3" y="560.85" width="652.6" height="132.05" fill="#fff"/>
<line x1="1689.5" y1="560.85" x2="1689.5" y2="692.9" stroke="#ebebeb" stroke-width="3.6"/>
<line x1="1767.5" y1="560.85" x2="1767.5" y2="692.9" stroke="#ebebeb" stroke-width="2"/>
<line x1="1845.5" y1="560.85" x2="1845.5" y2="692.9" stroke="#ebebeb" stroke-width="3.6"/>
<line x1="1923.5" y1="560.85" x2="1923.5" y2="692.9" stroke="#ebebeb" stroke-width="2"/>
<line x1="2001.5" y1="560.85" x2="2001.5" y2="692.9" stroke="#ebebeb" stroke-width="3.6"/>
<line x1="2079.5" y1="560.85" x2="2079.5" y2="692.9" stroke="#ebebeb" stroke-width="2"/>
<line x1="2157.5" y1="560.85" x2="2157.5" y2="692.9" stroke="#ebebeb" stroke-width="3.6"/>
<line x1="2235.5" y1="560.85" x2="2235.5" y2="692.9" stroke="#ebebeb" stroke-width="2"/>
<line x1="1650.3" y1="610.1" x2="2302.9" y2="610.1" stroke="#ebebeb" stroke-width="3.9"/>
<line x1="1644.4" y1="610.1" x2="1648.4" y2="610.1" stroke="#333" stroke-width="3.6"/>
<line x1="1650.3" y1="643.2" x2="2302.9" y2="643.2" stroke="#ebebeb" stroke-width="3.9"/>
<line x1="1644.4" y1="643.2" x2="1648.4" y2="643.2" stroke="#333" stroke-width="3.6"/>
<line x1="1650.3" y1="676.3" x2="2302.9" y2="676.3" stroke="#ebebeb" stroke-width="3.9"/>
<line x1="1644.4" y1="676.3" x2="1648.4" y2="676.3" stroke="#333" stroke-width="3.6"/>
<circle cx="2147.9" cy="610.1" r="16.9" fill="#fb1616"/>
<circle cx="1906.4" cy="643.1" r="30.4" fill="#f92e18"/>
<circle cx="2209.4" cy="676" r="11.4" fill="#ee3b14"/>
<rect x="1650.3" y="560.85" width="652.6" height="132.05" fill="none" stroke="#333" stroke-width="4.1" stroke-linejoin="round"/>
<rect x="1687.7" y="704" width="3.6" height="4.7" fill="#333"/>
<text transform="translate(1668.96,728.2) scale(1.0291,1)" font-size="20.5">0.90</text>
<rect x="1843.7" y="704" width="3.6" height="4.7" fill="#333"/>
<text transform="translate(1824.95,728.2) scale(1.0318,1)" font-size="20.5">0.93</text>
<rect x="1999.7" y="704" width="3.6" height="4.7" fill="#333"/>
<text transform="translate(1980.95,728.2) scale(1.0318,1)" font-size="20.5">0.96</text>
<rect x="2155.7" y="704" width="3.6" height="4.7" fill="#333"/>
<text transform="translate(2136.95,728.2) scale(1.0332,1)" font-size="20.5">0.99</text>
<text transform="translate(1886.68,767.1) scale(1.0079,1)" font-size="26.76" font-weight="700">Rich Factor</text>
<text transform="translate(1157.2,692.9) rotate(-90) scale(0.9459,1)" font-size="34.33" font-weight="700">GO_Term</text>
<text transform="translate(1196.84,616.9) scale(1.0443,1)" font-size="20.22">GO:0022625 | cytosolic large ribosomal subunit</text>
<text transform="translate(1190.84,650.1) scale(1.0463,1)" font-size="20.22">GO:0003735 | structural constituent of ribosome</text>
<text transform="translate(1338.74,683.4) scale(1.0527,1)" font-size="20.22">GO:0009451 | RNA modification</text>
<text transform="translate(2352.66,558.5) scale(1.0314,1)" font-size="15.42" font-weight="700">Gene Number</text>
<circle cx="2377.6" cy="582.1" r="8.6" fill="#141414"/>
<text transform="translate(2409.76,588.3)" font-size="15.91">50</text>
<circle cx="2377.6" cy="606.8" r="12.4" fill="#141414"/>
<text transform="translate(2409.01,612.6)" font-size="15.91">100</text>
<circle cx="2377.6" cy="640.4" r="16.6" fill="#141414"/>
<text transform="translate(2409.01,646.4)" font-size="15.91">150</text>
<circle cx="2377.6" cy="684.4" r="20.3" fill="#141414"/>
<text transform="translate(2409.4,690.8)" font-size="15.91">200</text>
<text transform="translate(2366.89,736.5) scale(1.0162,1)" font-size="20.51" font-weight="700">P.value</text>
<rect x="2331" y="746.7" width="131" height="26.9" fill="url(#rgb1)"/>
<rect x="2378.6" y="746.7" width="2" height="6" fill="#fff"/>
<rect x="2427.4" y="746.7" width="2" height="6" fill="#fff"/>
<text transform="translate(2357.9,792.7) scale(1.0432,1)" font-size="19.07">0.05</text>
<text transform="translate(2406.81,792.7) scale(1.0362,1)" font-size="19.07">0.10</text>
</g>
<g id="panelD">
<text transform="translate(1161.88,847.6) scale(1.0564,1)" font-size="29.67" font-weight="700">D</text>
<rect x="1739.4" y="802.35" width="492.4" height="434.65" fill="#fff"/>
<line x1="1775.3" y1="802.35" x2="1775.3" y2="1237" stroke="#ebebeb" stroke-width="3.6"/>
<line x1="1843.27" y1="802.35" x2="1843.27" y2="1237" stroke="#ebebeb" stroke-width="2"/>
<line x1="1911.25" y1="802.35" x2="1911.25" y2="1237" stroke="#ebebeb" stroke-width="3.6"/>
<line x1="1979.22" y1="802.35" x2="1979.22" y2="1237" stroke="#ebebeb" stroke-width="2"/>
<line x1="2047.2" y1="802.35" x2="2047.2" y2="1237" stroke="#ebebeb" stroke-width="3.6"/>
<line x1="2115.17" y1="802.35" x2="2115.17" y2="1237" stroke="#ebebeb" stroke-width="2"/>
<line x1="2183.15" y1="802.35" x2="2183.15" y2="1237" stroke="#ebebeb" stroke-width="3.6"/>
<line x1="1739.4" y1="849.2" x2="2231.8" y2="849.2" stroke="#ebebeb" stroke-width="3.9"/>
<line x1="1733.8" y1="849.2" x2="1737.6" y2="849.2" stroke="#333" stroke-width="3.6"/>
<line x1="1739.4" y1="880.15" x2="2231.8" y2="880.15" stroke="#ebebeb" stroke-width="3.9"/>
<line x1="1733.8" y1="880.15" x2="1737.6" y2="880.15" stroke="#333" stroke-width="3.6"/>
<line x1="1739.4" y1="911.1" x2="2231.8" y2="911.1" stroke="#ebebeb" stroke-width="3.9"/>
<line x1="1733.8" y1="911.1" x2="1737.6" y2="911.1" stroke="#333" stroke-width="3.6"/>
<line x1="1739.4" y1="942.05" x2="2231.8" y2="942.05" stroke="#ebebeb" stroke-width="3.9"/>
<line x1="1733.8" y1="942.05" x2="1737.6" y2="942.05" stroke="#333" stroke-width="3.6"/>
<line x1="1739.4" y1="973" x2="2231.8" y2="973" stroke="#ebebeb" stroke-width="3.9"/>
<line x1="1733.8" y1="973" x2="1737.6" y2="973" stroke="#333" stroke-width="3.6"/>
<line x1="1739.4" y1="1003.95" x2="2231.8" y2="1003.95" stroke="#ebebeb" stroke-width="3.9"/>
<line x1="1733.8" y1="1003.95" x2="1737.6" y2="1003.95" stroke="#333" stroke-width="3.6"/>
<line x1="1739.4" y1="1034.9" x2="2231.8" y2="1034.9" stroke="#ebebeb" stroke-width="3.9"/>
<line x1="1733.8" y1="1034.9" x2="1737.6" y2="1034.9" stroke="#333" stroke-width="3.6"/>
<line x1="1739.4" y1="1065.85" x2="2231.8" y2="1065.85" stroke="#ebebeb" stroke-width="3.9"/>
<line x1="1733.8" y1="1065.85" x2="1737.6" y2="1065.85" stroke="#333" stroke-width="3.6"/>
<line x1="1739.4" y1="1096.8" x2="2231.8" y2="1096.8" stroke="#ebebeb" stroke-width="3.9"/>
<line x1="1733.8" y1="1096.8" x2="1737.6" y2="1096.8" stroke="#333" stroke-width="3.6"/>
<line x1="1739.4" y1="1127.75" x2="2231.8" y2="1127.75" stroke="#ebebeb" stroke-width="3.9"/>
<line x1="1733.8" y1="1127.75" x2="1737.6" y2="1127.75" stroke="#333" stroke-width="3.6"/>
<line x1="1739.4" y1="1158.7" x2="2231.8" y2="1158.7" stroke="#ebebeb" stroke-width="3.9"/>
<line x1="1733.8" y1="1158.7" x2="1737.6" y2="1158.7" stroke="#333" stroke-width="3.6"/>
<line x1="1739.4" y1="1189.65" x2="2231.8" y2="1189.65" stroke="#ebebeb" stroke-width="3.9"/>
<line x1="1733.8" y1="1189.65" x2="1737.6" y2="1189.65" stroke="#333" stroke-width="3.6"/>
<line x1="1739.4" y1="1220.6" x2="2231.8" y2="1220.6" stroke="#ebebeb" stroke-width="3.9"/>
<line x1="1733.8" y1="1220.6" x2="1737.6" y2="1220.6" stroke="#333" stroke-width="3.6"/>
<circle cx="2161.4" cy="849.2" r="25" fill="#fc1717"/>
<circle cx="1821.5" cy="880.15" r="30.6" fill="#fc1717"/>
<circle cx="2120.8" cy="911.1" r="16.3" fill="#fc1717"/>
<circle cx="1891.5" cy="942.05" r="19.3" fill="#fc1717"/>
<circle cx="1874" cy="973" r="18.8" fill="#fc1717"/>
<circle cx="1851.1" cy="1003.95" r="16" fill="#fc1717"/>
<circle cx="1987.5" cy="1034.9" r="13.5" fill="#fc1717"/>
<circle cx="1809.5" cy="1065.85" r="16.5" fill="#fc1717"/>
<circle cx="1993.7" cy="1096.8" r="12.9" fill="#fc1717"/>
<circle cx="2066.6" cy="1127.75" r="11.2" fill="#fc1717"/>
<circle cx="1914.6" cy="1158.7" r="13" fill="#fc1717"/>
<circle cx="1985.9" cy="1189.65" r="11.9" fill="#fc1717"/>
<circle cx="1951.7" cy="1220.6" r="12.2" fill="#fc1717"/>
<rect x="1739.4" y="802.35" width="492.4" height="434.65" fill="none" stroke="#333" stroke-width="4.1" stroke-linejoin="round"/>
<rect x="1773.5" y="1238.5" width="3.6" height="5.2" fill="#333"/>
<text transform="translate(1755.7,1261.8) scale(1.0375,1)" font-size="19.35">0.80</text>
<rect x="1909.45" y="1238.5" width="3.6" height="5.2" fill="#333"/>
<text transform="translate(1891.65,1261.8) scale(1.0389,1)" font-size="19.35">0.85</text>
<rect x="2045.4" y="1238.5" width="3.6" height="5.2" fill="#333"/>
<text transform="translate(2027.6,1261.8) scale(1.0375,1)" font-size="19.35">0.90</text>
<rect x="2181.35" y="1238.5" width="3.6" height="5.2" fill="#333"/>
<text transform="translate(2163.55,1261.8) scale(1.0389,1)" font-size="19.35">0.95</text>
<text transform="translate(1901.44,1300.4) scale(1.0111,1)" font-size="30.25" font-weight="700">Rich Factor</text>
<text transform="translate(1177.2,1204.32) rotate(-90) scale(0.9715,1)" font-size="30.76" font-weight="700">Pathway</text>
<text transform="translate(1531.06,856) scale(1.0247,1)" font-size="19.35">map03010 | Ribosome</text>
<text transform="translate(1321.56,886.95) scale(1.0233,1)" font-size="19.35">map04075 | Plant hormone signal transduction</text>
<text transform="translate(1233.96,917.9) scale(1.0225,1)" font-size="19.35">map04141 | Protein processing in endoplasmic reticulum</text>
<text transform="translate(1371.47,948.85) scale(1.0222,1)" font-size="19.35">map03013 | Nucleocytoplasmic transport</text>
<text transform="translate(1343.16,979.8) scale(1.0245,1)" font-size="19.35">map00500 | Starch and sucrose metabolism</text>
<text transform="translate(1337.37,1010.75) scale(1.0178,1)" font-size="19.35">map04016 | MAPK signaling pathway − plant</text>
<text transform="translate(1507.06,1041.7) scale(1.0236,1)" font-size="19.35">map03040 | Spliceosome</text>
<text transform="translate(1385.17,1072.65) scale(1.0221,1)" font-size="19.35">map04626 | Plant−pathogen interaction</text>
<text transform="translate(1513.56,1103.6) scale(1.0233,1)" font-size="19.35">map04144 | Endocytosis</text>
<text transform="translate(1456.16,1134.55) scale(1.0263,1)" font-size="19.35">map00230 | Purine metabolism</text>
<text transform="translate(1358.27,1165.5) scale(1.0206,1)" font-size="19.35">map00940 | Phenylpropanoid biosynthesis</text>
<text transform="translate(1214.26,1196.45) scale(1.0245,1)" font-size="19.35">map00520 | Amino sugar and nucleotide sugar metabolism</text>
<text transform="translate(1253.17,1227.4) scale(1.0177,1)" font-size="19.35">map00040 | Pentose and glucuronate interconversions</text>
<text transform="translate(2274.58,854.9) scale(1.0033,1)" font-size="20.51" font-weight="700">Gene Number</text>
<circle cx="2302.3" cy="885.5" r="11.6" fill="#141414"/>
<text transform="translate(2339.83,892.5) scale(1.0413,1)" font-size="20.07">100</text>
<circle cx="2302.3" cy="919.2" r="17" fill="#141414"/>
<text transform="translate(2339.83,926.5) scale(1.0413,1)" font-size="20.07">150</text>
<circle cx="2302.3" cy="967.2" r="22.6" fill="#141414"/>
<text transform="translate(2340.37,973.9) scale(1.0248,1)" font-size="20.07">200</text>
<text transform="translate(2274.14,1042) scale(1.0489,1)" font-size="20.65" font-weight="700">P.value</text>
<rect x="2274.5" y="1059.8" width="26.8" height="134.4" fill="url(#rgb2)"/>
<rect x="2274.5" y="1059.55" width="5.5" height="1.5" fill="#fff"/>
<rect x="2295.8" y="1059.55" width="5.5" height="1.5" fill="#fff"/>
<rect x="2274.5" y="1093.05" width="5.5" height="1.5" fill="#fff"/>
<rect x="2295.8" y="1093.05" width="5.5" height="1.5" fill="#fff"/>
<rect x="2274.5" y="1126.15" width="5.5" height="1.5" fill="#fff"/>
<rect x="2295.8" y="1126.15" width="5.5" height="1.5" fill="#fff"/>
<rect x="2274.5" y="1159.45" width="5.5" height="1.5" fill="#fff"/>
<rect x="2295.8" y="1159.45" width="5.5" height="1.5" fill="#fff"/>
<rect x="2274.5" y="1192.95" width="5.5" height="1.5" fill="#fff"/>
<rect x="2295.8" y="1192.95" width="5.5" height="1.5" fill="#fff"/>
<text transform="translate(2311.32,1067) scale(1.0456,1)" font-size="19.78">9.634721e−80</text>
<text transform="translate(2311.52,1100.5) scale(1.0456,1)" font-size="19.78">3.136249e−21</text>
<text transform="translate(2311.26,1133.7) scale(1.0476,1)" font-size="19.78">6.272498e−21</text>
<text transform="translate(2311.32,1167.1) scale(1.0472,1)" font-size="19.78">9.408746e−21</text>
<text transform="translate(2312.46,1200.5) scale(1.0365,1)" font-size="19.78">1.254500e−20</text>
</g>
</svg>
</body></html>
